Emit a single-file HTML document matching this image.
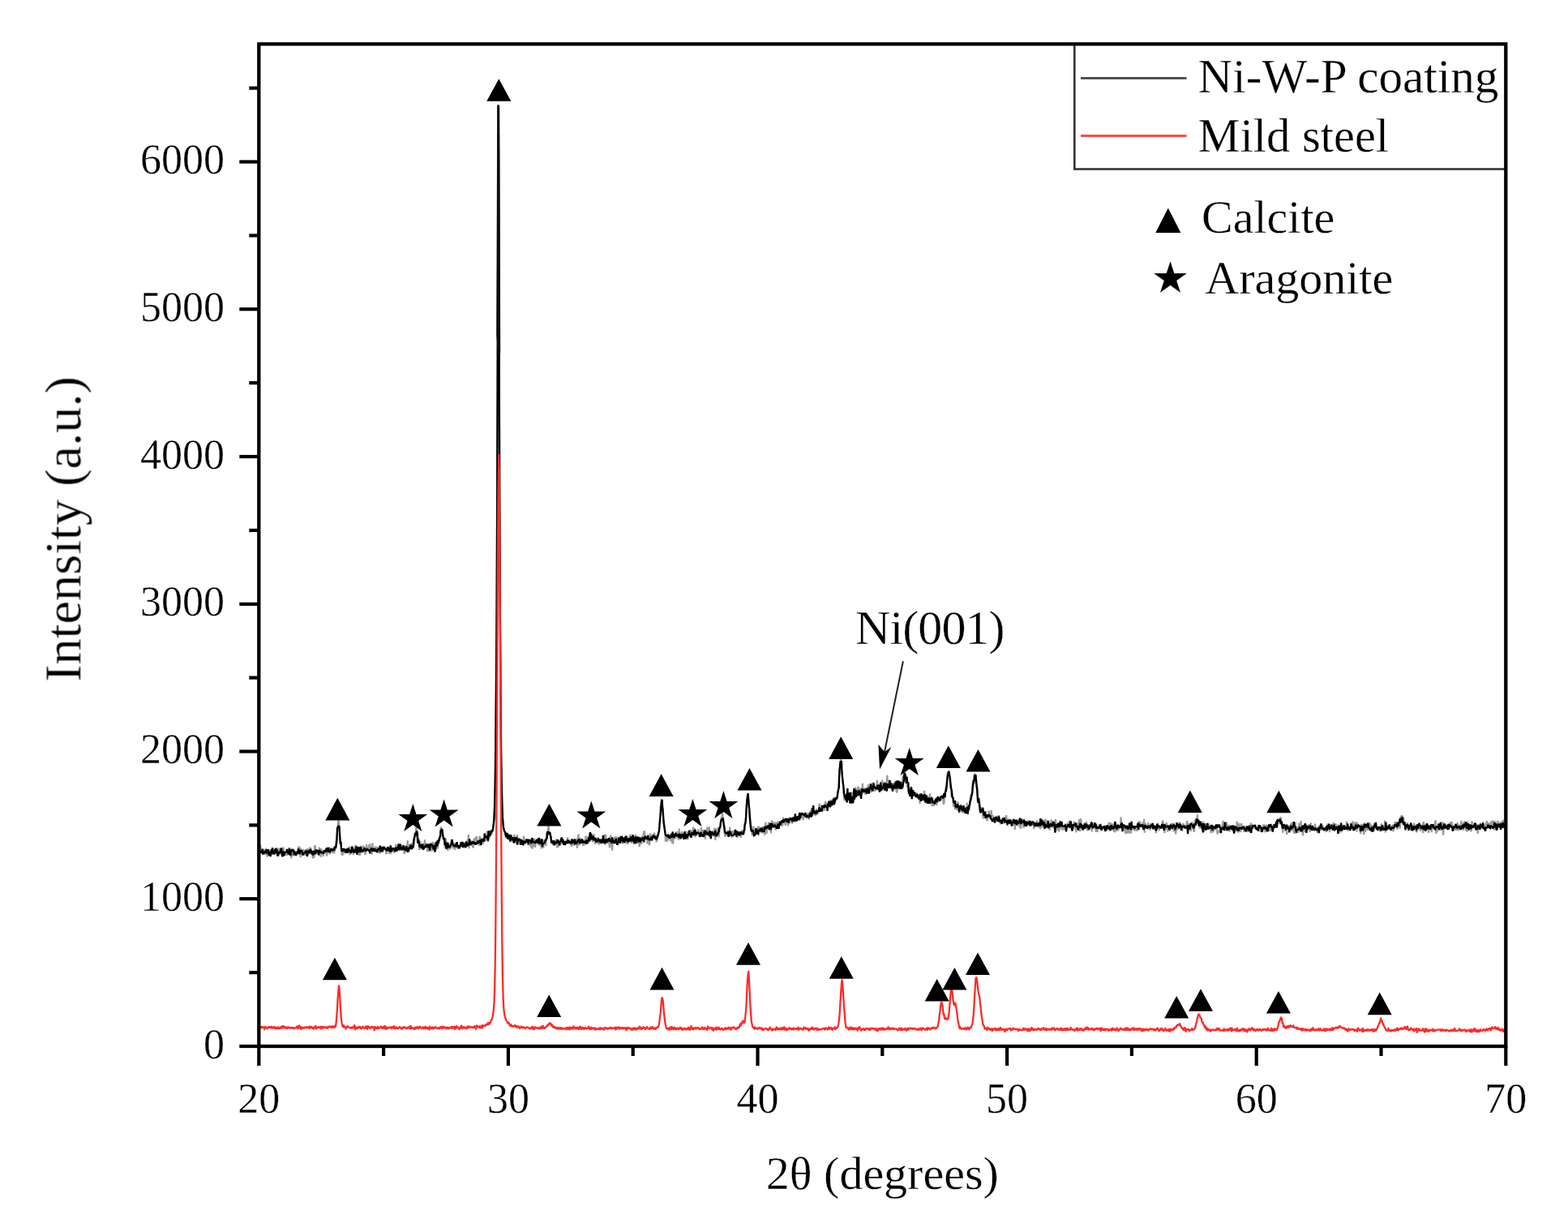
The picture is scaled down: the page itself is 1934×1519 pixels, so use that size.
<!DOCTYPE html>
<html><head><meta charset="utf-8"><title>XRD pattern</title>
<style>
html,body{margin:0;padding:0;background:#fff;}
svg{display:block;}
text{font-family:"Liberation Serif","Times New Roman",serif;fill:#000;stroke:#fff;stroke-width:0.35px;}
</style></head>
<body>
<svg width="1934" height="1519" viewBox="0 0 1934 1519">
<defs><filter id="soft" x="0" y="0" width="100%" height="100%" filterUnits="userSpaceOnUse"><feGaussianBlur stdDeviation="0.6"/></filter></defs>
<rect x="0" y="0" width="1934" height="1519" fill="#fff"/>
<g filter="url(#soft)">
<!-- data -->
<polyline fill="none" stroke="#9a9a9a" stroke-width="2.2" stroke-linejoin="bevel" points="319.3,1057.3 319.9,1050.0 320.5,1049.2 321.2,1041.4 321.8,1050.9 322.4,1049.8 323.0,1049.0 323.6,1052.1 324.3,1052.5 324.9,1047.1 325.5,1047.7 326.1,1049.2 326.7,1053.4 327.4,1052.9 328.0,1046.2 328.6,1046.9 329.2,1053.5 329.8,1056.5 330.5,1050.8 331.1,1048.4 331.7,1054.8 332.3,1049.7 332.9,1053.5 333.6,1056.4 334.2,1053.1 334.8,1051.1 335.4,1053.5 336.0,1048.5 336.7,1050.2 337.3,1048.7 337.9,1050.1 338.5,1049.0 339.1,1050.1 339.8,1049.4 340.4,1051.1 341.0,1051.0 341.6,1051.8 342.2,1055.8 342.9,1045.2 343.5,1055.4 344.1,1049.9 344.7,1046.3 345.3,1050.1 346.0,1051.0 346.6,1054.5 347.2,1046.9 347.8,1051.5 348.4,1051.1 349.1,1044.6 349.7,1046.4 350.3,1052.8 350.9,1053.1 351.5,1054.6 352.2,1052.6 352.8,1052.0 353.4,1051.1 354.0,1055.0 354.6,1047.6 355.3,1050.1 355.9,1052.0 356.5,1044.9 357.1,1055.3 357.7,1047.7 358.4,1050.3 359.0,1058.3 359.6,1047.6 360.2,1048.6 360.8,1056.2 361.5,1046.6 362.1,1049.0 362.7,1052.4 363.3,1052.1 363.9,1052.6 364.6,1051.8 365.2,1055.3 365.8,1054.1 366.4,1052.6 367.0,1048.0 367.7,1047.9 368.3,1043.6 368.9,1052.9 369.5,1043.9 370.1,1053.6 370.8,1057.1 371.4,1046.6 372.0,1047.9 372.6,1048.7 373.2,1053.4 373.9,1047.3 374.5,1049.9 375.1,1048.5 375.7,1049.5 376.3,1055.0 377.0,1046.9 377.6,1050.6 378.2,1051.3 378.8,1053.4 379.4,1045.8 380.1,1054.3 380.7,1051.9 381.3,1053.4 381.9,1050.5 382.5,1044.4 383.2,1047.9 383.8,1053.2 384.4,1050.4 385.0,1050.1 385.6,1056.7 386.3,1058.2 386.9,1050.1 387.5,1057.2 388.1,1043.0 388.7,1042.8 389.4,1053.3 390.0,1049.2 390.6,1052.3 391.2,1052.0 391.8,1049.8 392.5,1052.6 393.1,1050.7 393.7,1044.6 394.3,1050.9 394.9,1050.8 395.6,1056.7 396.2,1046.0 396.8,1050.1 397.4,1048.5 398.0,1049.6 398.7,1056.0 399.3,1051.4 399.9,1048.4 400.5,1050.6 401.1,1052.8 401.8,1046.4 402.4,1049.0 403.0,1055.5 403.6,1053.0 404.2,1049.8 404.9,1048.2 405.5,1049.3 406.1,1044.3 406.7,1053.2 407.3,1051.0 408.0,1050.3 408.6,1045.1 409.2,1047.1 409.8,1051.5 410.4,1050.5 411.1,1047.7 411.7,1051.1 412.3,1052.2 412.9,1045.7 413.5,1044.6 414.2,1040.5 414.8,1034.7 415.4,1035.3 416.0,1026.8 416.6,1019.7 417.3,1010.9 417.9,1012.6 418.5,1021.5 419.1,1027.5 419.7,1036.4 420.4,1038.9 421.0,1047.4 421.6,1053.6 422.2,1053.7 422.8,1054.4 423.5,1049.1 424.1,1052.2 424.7,1047.6 425.3,1052.3 425.9,1047.6 426.6,1047.2 427.2,1046.7 427.8,1051.5 428.4,1050.0 429.0,1049.7 429.7,1044.9 430.3,1049.5 430.9,1043.8 431.5,1054.2 432.1,1048.4 432.8,1049.6 433.4,1048.5 434.0,1043.1 434.6,1043.9 435.2,1048.7 435.9,1054.1 436.5,1044.7 437.1,1046.2 437.7,1048.5 438.3,1042.6 439.0,1042.5 439.6,1047.1 440.2,1048.4 440.8,1047.2 441.4,1054.1 442.1,1047.9 442.7,1049.8 443.3,1054.2 443.9,1054.6 444.5,1042.7 445.2,1047.0 445.8,1052.5 446.4,1043.4 447.0,1045.0 447.6,1043.6 448.3,1043.4 448.9,1044.1 449.5,1048.8 450.1,1052.7 450.7,1053.6 451.4,1048.2 452.0,1041.0 452.6,1047.9 453.2,1046.8 453.8,1049.3 454.5,1047.5 455.1,1041.5 455.7,1049.4 456.3,1040.5 456.9,1045.4 457.6,1049.0 458.2,1049.1 458.8,1053.4 459.4,1039.3 460.0,1049.0 460.7,1050.2 461.3,1046.5 461.9,1049.9 462.5,1043.7 463.1,1050.0 463.8,1049.5 464.4,1044.0 465.0,1045.1 465.6,1046.8 466.2,1045.1 466.9,1051.2 467.5,1048.0 468.1,1052.1 468.7,1051.6 469.3,1047.5 470.0,1046.6 470.6,1043.9 471.2,1044.3 471.8,1044.3 472.4,1048.4 473.1,1044.0 473.7,1047.4 474.3,1047.8 474.9,1045.3 475.5,1046.4 476.2,1052.2 476.8,1052.8 477.4,1044.1 478.0,1046.2 478.6,1045.6 479.3,1045.9 479.9,1052.4 480.5,1049.3 481.1,1051.3 481.7,1053.2 482.4,1045.1 483.0,1046.0 483.6,1046.8 484.2,1050.3 484.8,1046.3 485.5,1048.9 486.1,1050.8 486.7,1050.7 487.3,1048.1 487.9,1043.6 488.6,1040.9 489.2,1050.5 489.8,1048.0 490.4,1043.0 491.0,1044.5 491.7,1044.7 492.3,1040.2 492.9,1047.1 493.5,1043.4 494.1,1045.1 494.8,1048.8 495.4,1045.8 496.0,1048.0 496.6,1047.6 497.2,1046.1 497.9,1046.2 498.5,1052.7 499.1,1045.3 499.7,1051.8 500.3,1042.6 501.0,1048.4 501.6,1046.4 502.2,1043.1 502.8,1036.2 503.4,1051.4 504.1,1041.4 504.7,1042.1 505.3,1045.9 505.9,1045.6 506.5,1046.3 507.2,1044.2 507.8,1039.4 508.4,1047.4 509.0,1040.0 509.6,1042.6 510.3,1041.6 510.9,1040.8 511.5,1032.4 512.1,1028.7 512.7,1026.2 513.4,1019.3 514.0,1024.1 514.6,1025.6 515.2,1028.4 515.8,1036.5 516.5,1037.7 517.1,1046.8 517.7,1048.0 518.3,1036.8 518.9,1044.5 519.6,1040.8 520.2,1046.5 520.8,1045.1 521.4,1047.9 522.0,1045.6 522.7,1047.2 523.3,1043.4 523.9,1035.4 524.5,1040.2 525.1,1041.3 525.8,1042.6 526.4,1040.7 527.0,1050.2 527.6,1043.7 528.2,1048.9 528.9,1043.0 529.5,1050.1 530.1,1039.8 530.7,1046.2 531.3,1039.3 532.0,1045.6 532.6,1049.7 533.2,1038.0 533.8,1040.7 534.4,1044.7 535.1,1043.1 535.7,1038.8 536.3,1047.8 536.9,1043.8 537.5,1048.1 538.2,1044.5 538.8,1038.9 539.4,1040.8 540.0,1046.5 540.6,1035.0 541.3,1036.1 541.9,1036.9 542.5,1034.8 543.1,1030.5 543.7,1019.2 544.4,1030.5 545.0,1022.9 545.6,1025.9 546.2,1029.3 546.8,1032.1 547.5,1032.7 548.1,1037.5 548.7,1045.2 549.3,1036.7 549.9,1033.4 550.6,1044.4 551.2,1043.8 551.8,1045.3 552.4,1048.9 553.0,1040.1 553.7,1043.3 554.3,1044.5 554.9,1047.1 555.5,1046.3 556.1,1039.6 556.8,1037.6 557.4,1041.6 558.0,1036.7 558.6,1046.5 559.2,1041.0 559.9,1041.1 560.5,1039.2 561.1,1047.8 561.7,1043.4 562.3,1040.8 563.0,1044.5 563.6,1041.9 564.2,1044.3 564.8,1046.9 565.4,1041.2 566.1,1043.9 566.7,1043.8 567.3,1046.1 567.9,1044.1 568.5,1042.1 569.2,1039.6 569.8,1042.9 570.4,1038.1 571.0,1044.1 571.6,1042.0 572.3,1043.7 572.9,1039.8 573.5,1038.7 574.1,1038.3 574.7,1045.5 575.4,1040.7 576.0,1040.6 576.6,1035.0 577.2,1041.2 577.8,1028.9 578.5,1046.2 579.1,1040.4 579.7,1041.3 580.3,1036.0 580.9,1037.2 581.6,1043.2 582.2,1040.3 582.8,1042.5 583.4,1045.4 584.0,1042.9 584.7,1033.5 585.3,1036.5 585.9,1035.7 586.5,1036.3 587.1,1031.8 587.8,1031.7 588.4,1036.1 589.0,1036.4 589.6,1040.1 590.2,1036.8 590.9,1042.9 591.5,1030.9 592.1,1032.2 592.7,1037.8 593.3,1035.6 594.0,1032.8 594.6,1038.8 595.2,1039.7 595.8,1040.1 596.4,1033.7 597.1,1034.8 597.7,1035.3 598.3,1034.3 598.9,1037.4 599.5,1031.5 600.2,1034.2 600.8,1024.6 601.4,1035.0 602.0,1037.7 602.6,1031.3 603.3,1034.6 603.9,1024.4 604.5,1028.5 605.1,1023.4 605.7,1029.1 606.4,1028.8 607.0,1025.0 607.6,1023.3 608.2,1020.6 608.8,1017.1 609.5,1008.0 610.1,992.9 610.7,965.7 611.3,920.0 611.9,849.5 612.6,748.6 613.2,610.2 613.8,413.1 614.7,130.5 615.0,192.5 615.7,434.7 616.3,626.2 616.9,760.5 617.5,857.6 618.1,925.8 618.8,968.9 619.4,994.9 620.0,1009.6 620.6,1017.1 621.2,1021.8 621.9,1023.9 622.5,1025.7 623.1,1028.9 623.7,1029.1 624.3,1033.5 625.0,1031.4 625.6,1030.5 626.2,1032.8 626.8,1034.0 627.4,1028.1 628.1,1032.0 628.7,1031.7 629.3,1037.7 629.9,1032.0 630.5,1037.9 631.2,1029.9 631.8,1034.6 632.4,1038.9 633.0,1034.4 633.6,1039.8 634.3,1028.7 634.9,1036.3 635.5,1037.1 636.1,1036.3 636.7,1031.6 637.4,1039.6 638.0,1029.1 638.6,1041.0 639.2,1038.6 639.8,1041.2 640.5,1036.7 641.1,1033.7 641.7,1035.9 642.3,1036.1 642.9,1039.9 643.6,1036.7 644.2,1039.3 644.8,1039.6 645.4,1043.0 646.0,1030.7 646.7,1036.4 647.3,1040.4 647.9,1040.4 648.5,1035.9 649.1,1037.0 649.8,1037.6 650.4,1038.4 651.0,1036.0 651.6,1035.7 652.2,1034.0 652.9,1036.7 653.5,1043.0 654.1,1034.6 654.7,1041.5 655.3,1045.0 656.0,1038.8 656.6,1046.6 657.2,1037.6 657.8,1044.1 658.4,1037.9 659.1,1033.7 659.7,1039.4 660.3,1044.9 660.9,1036.0 661.5,1039.8 662.2,1034.5 662.8,1034.9 663.4,1039.8 664.0,1037.5 664.6,1040.1 665.3,1042.7 665.9,1033.9 666.5,1035.6 667.1,1038.3 667.7,1046.4 668.4,1036.9 669.0,1036.3 669.6,1039.6 670.2,1045.6 670.8,1035.8 671.5,1036.5 672.1,1037.3 672.7,1039.1 673.3,1043.0 673.9,1028.9 674.6,1025.3 675.2,1029.5 675.8,1028.7 676.4,1017.4 677.0,1023.0 677.7,1029.8 678.3,1026.5 678.9,1032.5 679.5,1033.6 680.1,1037.2 680.8,1037.7 681.4,1038.0 682.0,1042.1 682.6,1035.9 683.2,1038.5 683.9,1042.2 684.5,1036.1 685.1,1036.8 685.7,1035.5 686.3,1034.8 687.0,1045.5 687.6,1039.9 688.2,1045.0 688.8,1040.9 689.4,1038.5 690.1,1037.2 690.7,1039.2 691.3,1038.1 691.9,1041.5 692.5,1035.1 693.2,1038.8 693.8,1039.9 694.4,1037.4 695.0,1037.4 695.6,1040.2 696.3,1040.2 696.9,1037.8 697.5,1038.2 698.1,1036.2 698.7,1040.2 699.4,1037.7 700.0,1032.5 700.6,1037.0 701.2,1040.4 701.8,1039.1 702.5,1034.9 703.1,1040.8 703.7,1040.3 704.3,1040.3 704.9,1043.6 705.6,1036.9 706.2,1040.2 706.8,1037.1 707.4,1041.6 708.0,1042.2 708.7,1039.7 709.3,1040.7 709.9,1035.0 710.5,1040.2 711.1,1033.7 711.8,1045.7 712.4,1042.1 713.0,1032.4 713.6,1028.3 714.2,1042.5 714.9,1034.7 715.5,1039.8 716.1,1033.1 716.7,1038.0 717.3,1035.4 718.0,1039.9 718.6,1036.5 719.2,1043.0 719.8,1035.0 720.4,1042.3 721.1,1037.6 721.7,1039.4 722.3,1031.7 722.9,1031.0 723.5,1040.8 724.2,1032.2 724.8,1034.8 725.4,1034.2 726.0,1031.2 726.6,1034.3 727.3,1027.5 727.9,1027.5 728.5,1034.5 729.1,1028.1 729.7,1034.0 730.4,1034.4 731.0,1038.4 731.6,1035.5 732.2,1028.2 732.8,1033.2 733.5,1034.7 734.1,1041.1 734.7,1038.2 735.3,1035.4 735.9,1038.9 736.6,1036.1 737.2,1039.4 737.8,1038.0 738.4,1041.4 739.0,1038.6 739.7,1041.0 740.3,1037.4 740.9,1040.0 741.5,1036.9 742.1,1039.7 742.8,1038.2 743.4,1036.9 744.0,1035.8 744.6,1036.3 745.2,1039.0 745.9,1029.0 746.5,1041.6 747.1,1028.6 747.7,1036.4 748.3,1035.9 749.0,1039.7 749.6,1037.8 750.2,1036.8 750.8,1037.2 751.4,1040.3 752.1,1045.3 752.7,1038.2 753.3,1029.4 753.9,1035.2 754.5,1038.2 755.2,1048.6 755.8,1033.9 756.4,1035.3 757.0,1038.6 757.6,1037.7 758.3,1031.7 758.9,1039.9 759.5,1031.7 760.1,1035.4 760.7,1041.1 761.4,1031.6 762.0,1035.0 762.6,1042.2 763.2,1035.2 763.8,1032.4 764.5,1034.0 765.1,1039.1 765.7,1030.4 766.3,1033.7 766.9,1030.7 767.6,1031.8 768.2,1040.5 768.8,1035.5 769.4,1034.2 770.0,1037.3 770.7,1033.2 771.3,1031.4 771.9,1039.8 772.5,1038.8 773.1,1032.5 773.8,1038.1 774.4,1040.8 775.0,1037.2 775.6,1037.2 776.2,1030.9 776.9,1034.9 777.5,1028.6 778.1,1039.3 778.7,1034.6 779.3,1040.0 780.0,1032.4 780.6,1038.3 781.2,1029.4 781.8,1033.6 782.4,1037.0 783.1,1036.3 783.7,1034.7 784.3,1028.9 784.9,1039.7 785.5,1037.2 786.2,1038.9 786.8,1038.8 787.4,1033.4 788.0,1036.1 788.6,1044.2 789.3,1031.6 789.9,1036.0 790.5,1032.5 791.1,1040.8 791.7,1035.1 792.4,1030.6 793.0,1032.2 793.6,1029.2 794.2,1026.0 794.8,1024.4 795.5,1031.5 796.1,1030.0 796.7,1034.7 797.3,1031.1 797.9,1034.8 798.6,1040.4 799.2,1029.6 799.8,1029.5 800.4,1037.4 801.0,1042.3 801.7,1030.6 802.3,1027.5 802.9,1032.6 803.5,1032.1 804.1,1036.1 804.8,1029.6 805.4,1032.4 806.0,1032.2 806.6,1027.5 807.2,1027.4 807.9,1034.7 808.5,1034.9 809.1,1029.9 809.7,1038.2 810.3,1035.5 811.0,1033.1 811.6,1032.3 812.2,1029.0 812.8,1026.5 813.4,1021.3 814.1,1010.9 814.7,994.7 815.3,993.8 815.9,986.5 816.5,985.4 817.2,996.9 817.8,996.0 818.4,1013.9 819.0,1015.7 819.6,1018.9 820.3,1023.8 820.9,1037.6 821.5,1035.5 822.1,1029.5 822.7,1034.7 823.4,1037.4 824.0,1027.7 824.6,1029.9 825.2,1034.3 825.8,1032.4 826.5,1029.6 827.1,1036.9 827.7,1032.8 828.3,1033.8 828.9,1039.6 829.6,1032.6 830.2,1040.5 830.8,1031.9 831.4,1030.1 832.0,1031.2 832.7,1033.9 833.3,1033.0 833.9,1032.0 834.5,1025.1 835.1,1026.5 835.8,1029.5 836.4,1033.1 837.0,1035.7 837.6,1021.5 838.2,1029.7 838.9,1028.5 839.5,1029.8 840.1,1030.9 840.7,1026.9 841.3,1025.2 842.0,1033.7 842.6,1032.7 843.2,1028.4 843.8,1029.4 844.4,1027.3 845.1,1024.6 845.7,1032.1 846.3,1027.2 846.9,1025.4 847.5,1027.3 848.2,1035.4 848.8,1030.8 849.4,1029.9 850.0,1029.1 850.6,1031.6 851.3,1030.8 851.9,1023.0 852.5,1026.5 853.1,1024.7 853.7,1027.7 854.4,1026.6 855.0,1019.6 855.6,1031.4 856.2,1028.4 856.8,1021.3 857.5,1032.2 858.1,1028.6 858.7,1030.0 859.3,1028.5 859.9,1029.0 860.6,1026.6 861.2,1022.3 861.8,1026.1 862.4,1029.0 863.0,1028.4 863.7,1030.6 864.3,1027.8 864.9,1019.9 865.5,1030.8 866.1,1025.1 866.8,1023.0 867.4,1026.7 868.0,1022.9 868.6,1029.1 869.2,1024.4 869.9,1034.8 870.5,1026.8 871.1,1025.6 871.7,1025.2 872.3,1019.7 873.0,1024.4 873.6,1024.8 874.2,1026.4 874.8,1019.4 875.4,1027.7 876.1,1032.3 876.7,1026.0 877.3,1027.3 877.9,1029.1 878.5,1024.6 879.2,1025.9 879.8,1031.0 880.4,1028.2 881.0,1023.0 881.6,1020.9 882.3,1035.8 882.9,1029.0 883.5,1021.5 884.1,1027.9 884.7,1029.7 885.4,1027.5 886.0,1019.7 886.6,1032.4 887.2,1026.4 887.8,1020.8 888.5,1020.2 889.1,1012.3 889.7,1007.6 890.3,1009.5 890.9,999.1 891.6,1012.9 892.2,1015.1 892.8,1020.9 893.4,1025.2 894.0,1030.1 894.7,1031.2 895.3,1029.9 895.9,1025.6 896.5,1029.7 897.1,1025.5 897.8,1023.8 898.4,1029.0 899.0,1028.7 899.6,1031.8 900.2,1019.6 900.9,1029.6 901.5,1029.9 902.1,1027.8 902.7,1032.9 903.3,1024.2 904.0,1028.7 904.6,1026.1 905.2,1027.4 905.8,1023.8 906.4,1026.8 907.1,1029.8 907.7,1027.7 908.3,1028.5 908.9,1024.4 909.5,1032.9 910.2,1024.5 910.8,1027.1 911.4,1029.1 912.0,1026.2 912.6,1029.6 913.3,1027.4 913.9,1032.9 914.5,1028.5 915.1,1027.8 915.7,1023.2 916.4,1027.6 917.0,1029.0 917.6,1025.7 918.2,1018.8 918.8,1016.7 919.5,1012.5 920.1,1006.1 920.7,992.3 921.3,995.6 921.9,982.3 922.6,981.7 923.2,983.7 923.8,992.7 924.4,1008.7 925.0,1006.2 925.7,1014.1 926.3,1016.4 926.9,1020.8 927.5,1029.8 928.1,1022.6 928.8,1023.6 929.4,1018.8 930.0,1024.2 930.6,1026.4 931.2,1023.7 931.9,1023.9 932.5,1028.1 933.1,1027.0 933.7,1024.5 934.3,1021.8 935.0,1019.0 935.6,1030.4 936.2,1018.5 936.8,1026.3 937.4,1023.0 938.1,1020.9 938.7,1026.6 939.3,1020.5 939.9,1027.5 940.5,1019.0 941.2,1024.4 941.8,1027.0 942.4,1018.7 943.0,1029.6 943.6,1024.9 944.3,1013.6 944.9,1026.4 945.5,1028.1 946.1,1020.0 946.7,1020.1 947.4,1021.9 948.0,1013.5 948.6,1020.7 949.2,1023.3 949.8,1017.7 950.5,1023.6 951.1,1027.3 951.7,1012.0 952.3,1012.4 952.9,1016.1 953.6,1020.8 954.2,1019.6 954.8,1014.7 955.4,1013.7 956.0,1015.0 956.7,1023.6 957.3,1013.7 957.9,1014.9 958.5,1020.2 959.1,1015.6 959.8,1012.7 960.4,1021.3 961.0,1017.1 961.6,1013.2 962.2,1014.1 962.9,1018.6 963.5,1013.7 964.1,1015.8 964.7,1017.9 965.3,1018.0 966.0,1007.6 966.6,1012.2 967.2,1012.6 967.8,1014.0 968.4,1016.2 969.1,1017.4 969.7,1011.3 970.3,1008.8 970.9,1013.2 971.5,1010.2 972.2,1018.4 972.8,1013.2 973.4,1011.9 974.0,1015.2 974.6,1009.0 975.3,1010.0 975.9,1010.4 976.5,1013.2 977.1,1015.4 977.7,1013.3 978.4,1013.0 979.0,1009.3 979.6,1011.3 980.2,1008.9 980.8,1013.7 981.5,1007.1 982.1,1008.9 982.7,1009.9 983.3,1011.7 983.9,1006.0 984.6,1007.6 985.2,1005.3 985.8,1003.2 986.4,1011.8 987.0,1009.4 987.7,1002.1 988.3,1003.8 988.9,1009.2 989.5,1004.8 990.1,1003.0 990.8,1011.1 991.4,1004.7 992.0,1004.9 992.6,1008.1 993.2,1003.3 993.9,1005.8 994.5,1006.0 995.1,1007.8 995.7,1002.2 996.3,1008.5 997.0,1005.6 997.6,1010.6 998.2,1004.6 998.8,1001.6 999.4,1001.4 1000.1,998.9 1000.7,1002.7 1001.3,1002.2 1001.9,1005.4 1002.5,1002.2 1003.2,998.6 1003.8,1005.1 1004.4,999.6 1005.0,1001.8 1005.6,1005.9 1006.3,1004.9 1006.9,997.4 1007.5,999.4 1008.1,1004.4 1008.7,1002.8 1009.4,1000.9 1010.0,1001.9 1010.6,990.6 1011.2,997.1 1011.8,992.7 1012.5,995.3 1013.1,995.9 1013.7,998.8 1014.3,1000.9 1014.9,999.1 1015.6,996.9 1016.2,994.2 1016.8,999.7 1017.4,995.6 1018.0,987.9 1018.7,993.6 1019.3,995.3 1019.9,989.6 1020.5,993.4 1021.1,997.7 1021.8,990.9 1022.4,991.2 1023.0,990.9 1023.6,987.1 1024.2,988.5 1024.9,986.1 1025.5,988.3 1026.1,986.0 1026.7,992.0 1027.3,987.6 1028.0,990.7 1028.6,982.6 1029.2,986.6 1029.8,988.3 1030.4,988.3 1031.1,983.1 1031.7,984.2 1032.3,983.6 1032.9,979.6 1033.5,975.7 1034.2,973.8 1034.8,960.8 1035.4,950.7 1036.0,947.8 1036.6,944.8 1037.3,933.4 1037.9,949.4 1038.5,951.0 1039.1,960.4 1039.7,962.8 1040.4,972.1 1041.0,983.7 1041.6,987.0 1042.2,984.5 1042.8,982.3 1043.5,983.4 1044.1,988.9 1044.7,981.6 1045.3,980.7 1045.9,983.4 1046.6,986.9 1047.2,979.5 1047.8,984.4 1048.4,984.2 1049.0,983.1 1049.7,981.8 1050.3,985.4 1050.9,983.9 1051.5,976.2 1052.1,987.1 1052.8,982.6 1053.4,981.8 1054.0,979.1 1054.6,979.0 1055.2,970.6 1055.9,978.6 1056.5,981.4 1057.1,981.1 1057.7,976.2 1058.3,969.7 1059.0,973.9 1059.6,976.6 1060.2,982.1 1060.8,971.3 1061.4,977.0 1062.1,978.8 1062.7,978.7 1063.3,975.9 1063.9,965.8 1064.5,977.9 1065.2,975.9 1065.8,977.2 1066.4,971.5 1067.0,973.0 1067.6,980.0 1068.3,973.9 1068.9,974.0 1069.5,971.2 1070.1,978.1 1070.7,967.3 1071.4,971.2 1072.0,974.4 1072.6,972.5 1073.2,975.6 1073.8,973.7 1074.5,977.1 1075.1,970.8 1075.7,970.9 1076.3,972.2 1076.9,964.5 1077.6,975.9 1078.2,967.2 1078.8,974.4 1079.4,975.3 1080.0,973.5 1080.7,970.4 1081.3,967.3 1081.9,961.8 1082.5,971.5 1083.1,968.5 1083.8,975.6 1084.4,968.2 1085.0,971.5 1085.6,967.6 1086.2,970.6 1086.9,967.7 1087.5,968.2 1088.1,961.9 1088.7,966.1 1089.3,968.0 1090.0,973.2 1090.6,969.4 1091.2,963.9 1091.8,974.1 1092.4,969.5 1093.1,972.2 1093.7,964.7 1094.3,955.9 1094.9,965.0 1095.5,964.2 1096.2,969.0 1096.8,962.4 1097.4,964.9 1098.0,963.2 1098.6,968.8 1099.3,965.0 1099.9,973.5 1100.5,971.4 1101.1,971.7 1101.7,967.9 1102.4,969.7 1103.0,972.0 1103.6,965.8 1104.2,973.6 1104.8,968.8 1105.5,973.8 1106.1,977.5 1106.7,975.0 1107.3,965.4 1107.9,973.9 1108.6,968.3 1109.2,967.9 1109.8,968.5 1110.4,964.9 1111.0,969.7 1111.7,965.9 1112.3,971.9 1112.9,967.9 1113.5,955.8 1114.1,960.0 1114.8,958.0 1115.4,957.5 1116.0,956.6 1116.6,959.8 1117.2,959.6 1117.9,958.2 1118.5,966.2 1119.1,970.5 1119.7,969.5 1120.3,975.8 1121.0,974.8 1121.6,972.4 1122.2,974.0 1122.8,976.1 1123.4,978.6 1124.1,977.8 1124.7,981.1 1125.3,982.1 1125.9,974.6 1126.5,974.3 1127.2,978.5 1127.8,980.8 1128.4,982.7 1129.0,982.1 1129.6,982.3 1130.3,976.9 1130.9,982.0 1131.5,978.6 1132.1,982.7 1132.7,984.8 1133.4,979.3 1134.0,981.2 1134.6,991.3 1135.2,979.9 1135.8,981.1 1136.5,979.3 1137.1,978.3 1137.7,987.4 1138.3,981.6 1138.9,982.1 1139.6,981.8 1140.2,974.7 1140.8,987.7 1141.4,983.1 1142.0,985.1 1142.7,990.3 1143.3,985.0 1143.9,986.1 1144.5,986.4 1145.1,990.5 1145.8,981.1 1146.4,984.0 1147.0,978.3 1147.6,986.4 1148.2,988.8 1148.9,985.0 1149.5,993.9 1150.1,990.4 1150.7,994.0 1151.3,987.6 1152.0,993.8 1152.6,985.4 1153.2,988.8 1153.8,987.6 1154.4,985.3 1155.1,992.7 1155.7,991.2 1156.3,983.7 1156.9,988.5 1157.5,986.1 1158.2,986.1 1158.8,987.5 1159.4,983.3 1160.0,985.5 1160.6,985.7 1161.3,982.1 1161.9,982.1 1162.5,986.7 1163.1,983.3 1163.7,991.7 1164.4,990.5 1165.0,979.1 1165.6,981.3 1166.2,970.3 1166.8,971.7 1167.5,966.5 1168.1,962.0 1168.7,952.0 1169.3,956.6 1169.9,953.7 1170.6,950.4 1171.2,955.8 1171.8,964.2 1172.4,972.3 1173.0,967.4 1173.7,983.2 1174.3,975.5 1174.9,982.1 1175.5,986.2 1176.1,995.0 1176.8,992.8 1177.4,993.6 1178.0,997.8 1178.6,993.5 1179.2,991.5 1179.9,999.0 1180.5,993.3 1181.1,989.8 1181.7,988.6 1182.3,995.8 1183.0,1002.5 1183.6,998.7 1184.2,996.6 1184.8,1001.2 1185.4,991.8 1186.1,999.1 1186.7,995.6 1187.3,1002.7 1187.9,994.7 1188.5,1000.7 1189.2,998.6 1189.8,998.0 1190.4,1000.5 1191.0,997.5 1191.6,1003.1 1192.3,997.1 1192.9,989.7 1193.5,1002.6 1194.1,1001.6 1194.7,997.7 1195.4,999.7 1196.0,995.4 1196.6,987.6 1197.2,980.2 1197.8,980.3 1198.5,978.8 1199.1,977.1 1199.7,965.2 1200.3,962.4 1200.9,967.1 1201.6,955.9 1202.2,954.3 1202.8,954.0 1203.4,965.8 1204.0,966.6 1204.7,971.6 1205.3,979.5 1205.9,982.1 1206.5,988.3 1207.1,989.1 1207.8,994.6 1208.4,996.8 1209.0,999.4 1209.6,994.5 1210.2,999.4 1210.9,999.9 1211.5,999.6 1212.1,1002.4 1212.7,1009.5 1213.3,1006.8 1214.0,1004.0 1214.6,1005.2 1215.2,1009.4 1215.8,1000.1 1216.4,1006.2 1217.1,1011.1 1217.7,1011.8 1218.3,1008.8 1218.9,1007.8 1219.5,999.5 1220.2,1003.7 1220.8,1006.4 1221.4,1008.1 1222.0,1008.5 1222.6,998.9 1223.3,1005.5 1223.9,1008.7 1224.5,1005.1 1225.1,1007.3 1225.7,1010.2 1226.4,1009.7 1227.0,1009.5 1227.6,1011.7 1228.2,1013.4 1228.8,1008.5 1229.5,1006.0 1230.1,1007.5 1230.7,1008.5 1231.3,1010.3 1231.9,1005.2 1232.6,1008.2 1233.2,1010.2 1233.8,1016.3 1234.4,1013.5 1235.0,1011.3 1235.7,1015.1 1236.3,1012.7 1236.9,1012.9 1237.5,1016.0 1238.1,1013.4 1238.8,1012.9 1239.4,1015.0 1240.0,1010.5 1240.6,1012.7 1241.2,1005.0 1241.9,1011.2 1242.5,1018.3 1243.1,1011.5 1243.7,1012.9 1244.3,1011.5 1245.0,1009.3 1245.6,1014.9 1246.2,1013.1 1246.8,1017.2 1247.4,1010.1 1248.1,1013.6 1248.7,1012.3 1249.3,1011.4 1249.9,1017.5 1250.5,1011.1 1251.2,1011.2 1251.8,1023.0 1252.4,1013.7 1253.0,1013.3 1253.6,1015.7 1254.3,1010.5 1254.9,1015.5 1255.5,1010.0 1256.1,1012.6 1256.7,1012.4 1257.4,1019.4 1258.0,1016.9 1258.6,1021.3 1259.2,1020.8 1259.8,1012.3 1260.5,1016.8 1261.1,1013.4 1261.7,1012.7 1262.3,1019.4 1262.9,1020.3 1263.6,1015.7 1264.2,1016.5 1264.8,1016.4 1265.4,1016.6 1266.0,1016.8 1266.7,1011.9 1267.3,1017.8 1267.9,1013.1 1268.5,1011.3 1269.1,1015.1 1269.8,1016.7 1270.4,1018.7 1271.0,1017.1 1271.6,1016.8 1272.2,1013.4 1272.9,1017.3 1273.5,1016.6 1274.1,1017.0 1274.7,1013.2 1275.3,1022.1 1276.0,1018.7 1276.6,1018.5 1277.2,1016.4 1277.8,1015.1 1278.4,1019.5 1279.1,1011.4 1279.7,1014.5 1280.3,1015.2 1280.9,1018.3 1281.5,1015.2 1282.2,1021.4 1282.8,1010.0 1283.4,1022.0 1284.0,1017.5 1284.6,1019.8 1285.3,1014.6 1285.9,1020.2 1286.5,1015.3 1287.1,1017.5 1287.7,1011.2 1288.4,1018.6 1289.0,1017.1 1289.6,1009.9 1290.2,1016.3 1290.8,1015.6 1291.5,1019.7 1292.1,1014.4 1292.7,1017.5 1293.3,1021.5 1293.9,1013.7 1294.6,1023.7 1295.2,1017.8 1295.8,1016.2 1296.4,1012.1 1297.0,1010.6 1297.7,1020.5 1298.3,1015.4 1298.9,1014.9 1299.5,1021.0 1300.1,1019.7 1300.8,1017.7 1301.4,1012.0 1302.0,1010.3 1302.6,1020.8 1303.2,1017.2 1303.9,1016.5 1304.5,1024.4 1305.1,1016.0 1305.7,1018.8 1306.3,1025.3 1307.0,1019.8 1307.6,1015.6 1308.2,1014.6 1308.8,1022.1 1309.4,1013.3 1310.1,1020.8 1310.7,1023.7 1311.3,1017.5 1311.9,1020.9 1312.5,1018.2 1313.2,1023.1 1313.8,1019.0 1314.4,1015.5 1315.0,1019.4 1315.6,1018.6 1316.3,1015.9 1316.9,1017.3 1317.5,1013.8 1318.1,1015.2 1318.7,1020.6 1319.4,1011.6 1320.0,1019.3 1320.6,1018.4 1321.2,1016.2 1321.8,1023.5 1322.5,1020.9 1323.1,1016.3 1323.7,1019.2 1324.3,1021.9 1324.9,1012.9 1325.6,1019.4 1326.2,1017.7 1326.8,1020.1 1327.4,1026.3 1328.0,1016.4 1328.7,1017.5 1329.3,1014.5 1329.9,1019.6 1330.5,1021.1 1331.1,1010.0 1331.8,1024.2 1332.4,1024.7 1333.0,1009.3 1333.6,1013.5 1334.2,1020.8 1334.9,1019.4 1335.5,1023.4 1336.1,1018.2 1336.7,1023.9 1337.3,1014.3 1338.0,1020.8 1338.6,1017.8 1339.2,1017.7 1339.8,1013.0 1340.4,1018.0 1341.1,1024.5 1341.7,1017.2 1342.3,1018.7 1342.9,1020.1 1343.5,1016.1 1344.2,1020.6 1344.8,1021.7 1345.4,1018.9 1346.0,1013.0 1346.6,1025.4 1347.3,1020.0 1347.9,1019.8 1348.5,1019.2 1349.1,1017.8 1349.7,1014.0 1350.4,1019.8 1351.0,1020.6 1351.6,1023.7 1352.2,1026.0 1352.8,1017.5 1353.5,1026.0 1354.1,1020.5 1354.7,1022.3 1355.3,1016.5 1355.9,1021.4 1356.6,1016.8 1357.2,1022.6 1357.8,1015.6 1358.4,1020.3 1359.0,1018.6 1359.7,1021.4 1360.3,1021.1 1360.9,1020.7 1361.5,1018.3 1362.1,1023.3 1362.8,1022.2 1363.4,1017.3 1364.0,1022.9 1364.6,1017.8 1365.2,1020.5 1365.9,1019.8 1366.5,1019.8 1367.1,1023.1 1367.7,1013.7 1368.3,1024.8 1369.0,1013.8 1369.6,1024.7 1370.2,1022.2 1370.8,1014.8 1371.4,1021.5 1372.1,1019.1 1372.7,1015.9 1373.3,1024.6 1373.9,1024.3 1374.5,1021.6 1375.2,1026.4 1375.8,1020.8 1376.4,1019.3 1377.0,1025.0 1377.6,1017.6 1378.3,1023.2 1378.9,1024.3 1379.5,1021.1 1380.1,1020.7 1380.7,1022.1 1381.4,1021.2 1382.0,1017.8 1382.6,1007.3 1383.2,1018.4 1383.8,1015.0 1384.5,1023.9 1385.1,1018.6 1385.7,1021.2 1386.3,1023.0 1386.9,1024.0 1387.6,1016.9 1388.2,1028.2 1388.8,1023.7 1389.4,1022.6 1390.0,1017.0 1390.7,1027.6 1391.3,1022.7 1391.9,1024.4 1392.5,1019.2 1393.1,1027.2 1393.8,1025.7 1394.4,1019.9 1395.0,1027.6 1395.6,1016.4 1396.2,1023.4 1396.9,1022.6 1397.5,1022.8 1398.1,1017.6 1398.7,1018.9 1399.3,1023.7 1400.0,1024.0 1400.6,1019.9 1401.2,1019.1 1401.8,1018.2 1402.4,1024.9 1403.1,1019.5 1403.7,1018.0 1404.3,1013.1 1404.9,1013.5 1405.5,1015.8 1406.2,1012.5 1406.8,1018.4 1407.4,1018.7 1408.0,1016.2 1408.6,1018.2 1409.3,1019.4 1409.9,1013.3 1410.5,1022.3 1411.1,1009.7 1411.7,1026.8 1412.4,1014.3 1413.0,1019.8 1413.6,1018.4 1414.2,1021.1 1414.8,1016.9 1415.5,1021.7 1416.1,1014.0 1416.7,1022.5 1417.3,1018.6 1417.9,1021.1 1418.6,1023.4 1419.2,1015.3 1419.8,1017.5 1420.4,1016.9 1421.0,1019.3 1421.7,1020.3 1422.3,1022.3 1422.9,1020.4 1423.5,1019.1 1424.1,1021.6 1424.8,1023.4 1425.4,1023.2 1426.0,1027.3 1426.6,1017.3 1427.2,1020.5 1427.9,1014.7 1428.5,1017.1 1429.1,1021.9 1429.7,1024.2 1430.3,1017.8 1431.0,1021.3 1431.6,1019.9 1432.2,1021.5 1432.8,1020.4 1433.4,1017.9 1434.1,1011.5 1434.7,1014.2 1435.3,1021.0 1435.9,1019.3 1436.5,1027.2 1437.2,1019.8 1437.8,1022.9 1438.4,1015.3 1439.0,1014.5 1439.6,1020.3 1440.3,1025.7 1440.9,1021.1 1441.5,1018.4 1442.1,1021.1 1442.7,1021.8 1443.4,1021.2 1444.0,1019.7 1444.6,1015.8 1445.2,1015.4 1445.8,1017.7 1446.5,1019.1 1447.1,1014.8 1447.7,1025.4 1448.3,1021.7 1448.9,1017.6 1449.6,1022.3 1450.2,1028.4 1450.8,1020.4 1451.4,1020.4 1452.0,1023.3 1452.7,1014.6 1453.3,1017.5 1453.9,1016.8 1454.5,1022.3 1455.1,1013.4 1455.8,1020.7 1456.4,1017.8 1457.0,1018.5 1457.6,1017.5 1458.2,1024.8 1458.9,1016.4 1459.5,1015.2 1460.1,1020.6 1460.7,1017.4 1461.3,1021.3 1462.0,1019.3 1462.6,1019.6 1463.2,1019.7 1463.8,1013.4 1464.4,1012.2 1465.1,1026.8 1465.7,1015.3 1466.3,1021.5 1466.9,1015.5 1467.5,1019.3 1468.2,1018.6 1468.8,1024.8 1469.4,1018.8 1470.0,1013.9 1470.6,1014.2 1471.3,1020.1 1471.9,1021.8 1472.5,1025.3 1473.1,1024.9 1473.7,1011.0 1474.4,1014.5 1475.0,1009.2 1475.6,1013.5 1476.2,1014.4 1476.8,1004.4 1477.5,1014.3 1478.1,1014.6 1478.7,1012.2 1479.3,1012.3 1479.9,1021.7 1480.6,1016.3 1481.2,1013.9 1481.8,1019.0 1482.4,1022.9 1483.0,1022.1 1483.7,1012.7 1484.3,1015.1 1484.9,1018.6 1485.5,1020.7 1486.1,1020.7 1486.8,1015.7 1487.4,1023.6 1488.0,1022.0 1488.6,1014.6 1489.2,1016.8 1489.9,1019.9 1490.5,1014.9 1491.1,1020.5 1491.7,1021.0 1492.3,1018.9 1493.0,1022.5 1493.6,1027.0 1494.2,1018.1 1494.8,1022.2 1495.4,1018.9 1496.1,1026.1 1496.7,1025.1 1497.3,1020.6 1497.9,1018.4 1498.5,1023.5 1499.2,1020.5 1499.8,1016.3 1500.4,1017.1 1501.0,1020.2 1501.6,1028.6 1502.3,1024.7 1502.9,1025.8 1503.5,1024.2 1504.1,1025.8 1504.7,1026.3 1505.4,1016.9 1506.0,1023.1 1506.6,1023.2 1507.2,1022.8 1507.8,1022.5 1508.5,1011.9 1509.1,1021.7 1509.7,1016.1 1510.3,1024.5 1510.9,1019.2 1511.6,1020.1 1512.2,1020.9 1512.8,1013.7 1513.4,1020.5 1514.0,1016.6 1514.7,1024.6 1515.3,1019.3 1515.9,1017.1 1516.5,1025.7 1517.1,1020.2 1517.8,1017.8 1518.4,1020.9 1519.0,1020.6 1519.6,1022.2 1520.2,1017.7 1520.9,1025.2 1521.5,1022.6 1522.1,1027.3 1522.7,1023.5 1523.3,1017.9 1524.0,1025.3 1524.6,1020.5 1525.2,1021.8 1525.8,1012.6 1526.4,1016.9 1527.1,1026.4 1527.7,1025.4 1528.3,1015.1 1528.9,1022.6 1529.5,1022.6 1530.2,1025.9 1530.8,1017.4 1531.4,1015.1 1532.0,1022.5 1532.6,1019.0 1533.3,1019.2 1533.9,1018.1 1534.5,1025.8 1535.1,1018.2 1535.7,1024.8 1536.4,1023.5 1537.0,1018.9 1537.6,1024.8 1538.2,1025.8 1538.8,1022.6 1539.5,1020.4 1540.1,1024.0 1540.7,1018.5 1541.3,1023.0 1541.9,1026.7 1542.6,1016.3 1543.2,1014.7 1543.8,1023.8 1544.4,1018.0 1545.0,1019.5 1545.7,1021.7 1546.3,1018.9 1546.9,1021.6 1547.5,1017.5 1548.1,1019.2 1548.8,1020.7 1549.4,1023.0 1550.0,1019.5 1550.6,1022.3 1551.2,1023.2 1551.9,1022.9 1552.5,1020.6 1553.1,1025.7 1553.7,1018.3 1554.3,1024.8 1555.0,1024.6 1555.6,1024.3 1556.2,1019.2 1556.8,1024.5 1557.4,1022.8 1558.1,1017.0 1558.7,1019.9 1559.3,1016.3 1559.9,1022.4 1560.5,1026.1 1561.2,1024.4 1561.8,1017.5 1562.4,1017.4 1563.0,1020.4 1563.6,1020.5 1564.3,1023.7 1564.9,1019.9 1565.5,1025.1 1566.1,1019.1 1566.7,1024.8 1567.4,1015.8 1568.0,1019.1 1568.6,1021.2 1569.2,1024.0 1569.8,1022.9 1570.5,1017.8 1571.1,1016.1 1571.7,1020.5 1572.3,1019.9 1572.9,1018.3 1573.6,1018.9 1574.2,1013.3 1574.8,1018.7 1575.4,1019.0 1576.0,1010.8 1576.7,1009.6 1577.3,1016.0 1577.9,1015.0 1578.5,1008.5 1579.1,1009.9 1579.8,1007.3 1580.4,1016.8 1581.0,1017.1 1581.6,1017.8 1582.2,1026.8 1582.9,1018.9 1583.5,1019.7 1584.1,1021.4 1584.7,1020.1 1585.3,1024.9 1586.0,1020.4 1586.6,1021.5 1587.2,1029.2 1587.8,1019.0 1588.4,1016.8 1589.1,1021.7 1589.7,1018.9 1590.3,1018.8 1590.9,1021.9 1591.5,1024.2 1592.2,1015.6 1592.8,1020.4 1593.4,1013.6 1594.0,1024.4 1594.6,1017.4 1595.3,1023.4 1595.9,1027.5 1596.5,1025.9 1597.1,1022.6 1597.7,1013.9 1598.4,1027.8 1599.0,1019.5 1599.6,1023.9 1600.2,1019.2 1600.8,1020.2 1601.5,1026.8 1602.1,1015.0 1602.7,1016.6 1603.3,1020.0 1603.9,1024.8 1604.6,1012.0 1605.2,1025.5 1605.8,1019.5 1606.4,1023.5 1607.0,1030.5 1607.7,1022.9 1608.3,1025.0 1608.9,1026.0 1609.5,1019.9 1610.1,1021.5 1610.8,1020.4 1611.4,1021.8 1612.0,1019.9 1612.6,1019.2 1613.2,1018.8 1613.9,1023.8 1614.5,1016.2 1615.1,1021.4 1615.7,1026.0 1616.3,1016.0 1617.0,1014.7 1617.6,1023.4 1618.2,1018.1 1618.8,1018.3 1619.4,1023.3 1620.1,1022.1 1620.7,1018.5 1621.3,1019.8 1621.9,1015.6 1622.5,1018.8 1623.2,1020.6 1623.8,1022.9 1624.4,1023.0 1625.0,1027.2 1625.6,1020.6 1626.3,1024.5 1626.9,1021.9 1627.5,1017.3 1628.1,1022.0 1628.7,1022.1 1629.4,1023.3 1630.0,1022.6 1630.6,1021.3 1631.2,1017.6 1631.8,1019.7 1632.5,1021.9 1633.1,1023.2 1633.7,1023.7 1634.3,1022.1 1634.9,1023.1 1635.6,1026.0 1636.2,1021.5 1636.8,1018.8 1637.4,1015.7 1638.0,1020.9 1638.7,1023.0 1639.3,1019.4 1639.9,1026.1 1640.5,1017.6 1641.1,1019.4 1641.8,1020.5 1642.4,1016.2 1643.0,1024.3 1643.6,1017.9 1644.2,1016.4 1644.9,1014.0 1645.5,1023.9 1646.1,1025.2 1646.7,1016.9 1647.3,1015.4 1648.0,1018.9 1648.6,1020.5 1649.2,1018.6 1649.8,1022.2 1650.4,1016.7 1651.1,1027.9 1651.7,1021.8 1652.3,1024.1 1652.9,1019.0 1653.5,1024.0 1654.2,1026.5 1654.8,1017.9 1655.4,1021.0 1656.0,1024.1 1656.6,1022.0 1657.3,1017.5 1657.9,1018.8 1658.5,1022.6 1659.1,1021.7 1659.7,1018.1 1660.4,1021.7 1661.0,1012.5 1661.6,1020.7 1662.2,1023.9 1662.8,1023.8 1663.5,1018.9 1664.1,1021.3 1664.7,1021.2 1665.3,1020.0 1665.9,1017.5 1666.6,1015.2 1667.2,1018.1 1667.8,1015.8 1668.4,1012.5 1669.0,1024.4 1669.7,1014.7 1670.3,1017.5 1670.9,1017.4 1671.5,1013.4 1672.1,1020.8 1672.8,1013.3 1673.4,1025.8 1674.0,1014.4 1674.6,1016.5 1675.2,1018.7 1675.9,1018.8 1676.5,1019.3 1677.1,1023.4 1677.7,1024.4 1678.3,1028.2 1679.0,1015.9 1679.6,1024.1 1680.2,1022.8 1680.8,1019.3 1681.4,1015.7 1682.1,1029.2 1682.7,1024.9 1683.3,1014.0 1683.9,1026.0 1684.5,1022.2 1685.2,1021.4 1685.8,1023.4 1686.4,1018.3 1687.0,1020.0 1687.6,1023.9 1688.3,1016.2 1688.9,1015.4 1689.5,1014.3 1690.1,1023.1 1690.7,1016.5 1691.4,1019.1 1692.0,1018.5 1692.6,1022.4 1693.2,1021.6 1693.8,1017.3 1694.5,1025.4 1695.1,1021.8 1695.7,1021.5 1696.3,1018.6 1696.9,1019.0 1697.6,1019.3 1698.2,1020.2 1698.8,1021.7 1699.4,1021.7 1700.0,1019.2 1700.7,1019.7 1701.3,1022.7 1701.9,1024.5 1702.5,1024.7 1703.1,1020.0 1703.8,1015.5 1704.4,1020.7 1705.0,1020.7 1705.6,1020.4 1706.2,1021.9 1706.9,1018.2 1707.5,1020.5 1708.1,1011.6 1708.7,1026.5 1709.3,1020.1 1710.0,1018.8 1710.6,1021.9 1711.2,1019.1 1711.8,1017.3 1712.4,1023.0 1713.1,1020.2 1713.7,1017.5 1714.3,1022.4 1714.9,1021.5 1715.5,1021.3 1716.2,1018.8 1716.8,1023.8 1717.4,1016.6 1718.0,1022.9 1718.6,1025.3 1719.3,1016.5 1719.9,1020.6 1720.5,1013.2 1721.1,1019.8 1721.7,1013.3 1722.4,1014.5 1723.0,1019.7 1723.6,1022.4 1724.2,1019.6 1724.8,1016.0 1725.5,1012.8 1726.1,1014.4 1726.7,1021.7 1727.3,1016.7 1727.9,1005.7 1728.6,1007.4 1729.2,1005.0 1729.8,1013.1 1730.4,1011.2 1731.0,1008.1 1731.7,1014.4 1732.3,1014.5 1732.9,1013.4 1733.5,1016.8 1734.1,1021.8 1734.8,1015.6 1735.4,1017.9 1736.0,1014.2 1736.6,1018.0 1737.2,1024.5 1737.9,1021.5 1738.5,1017.0 1739.1,1017.4 1739.7,1024.1 1740.3,1019.1 1741.0,1017.7 1741.6,1023.7 1742.2,1018.1 1742.8,1017.0 1743.4,1021.1 1744.1,1014.9 1744.7,1018.1 1745.3,1016.8 1745.9,1020.2 1746.5,1019.3 1747.2,1026.4 1747.8,1022.2 1748.4,1019.8 1749.0,1021.8 1749.6,1019.0 1750.3,1020.7 1750.9,1021.9 1751.5,1021.5 1752.1,1024.9 1752.7,1021.8 1753.4,1017.2 1754.0,1020.7 1754.6,1015.7 1755.2,1027.1 1755.8,1013.0 1756.5,1019.3 1757.1,1021.5 1757.7,1016.3 1758.3,1018.1 1758.9,1023.4 1759.6,1015.2 1760.2,1023.0 1760.8,1018.8 1761.4,1018.3 1762.0,1026.8 1762.7,1022.4 1763.3,1021.0 1763.9,1018.7 1764.5,1020.2 1765.1,1019.0 1765.8,1026.2 1766.4,1020.3 1767.0,1016.9 1767.6,1017.8 1768.2,1021.0 1768.9,1015.6 1769.5,1016.8 1770.1,1013.7 1770.7,1011.2 1771.3,1027.8 1772.0,1018.8 1772.6,1026.0 1773.2,1021.6 1773.8,1020.6 1774.4,1015.6 1775.1,1019.4 1775.7,1020.2 1776.3,1016.3 1776.9,1022.2 1777.5,1024.0 1778.2,1021.3 1778.8,1020.3 1779.4,1013.4 1780.0,1029.6 1780.6,1022.3 1781.3,1015.3 1781.9,1015.4 1782.5,1017.1 1783.1,1015.9 1783.7,1019.7 1784.4,1016.4 1785.0,1020.0 1785.6,1017.9 1786.2,1018.5 1786.8,1015.2 1787.5,1020.1 1788.1,1020.4 1788.7,1016.5 1789.3,1013.4 1789.9,1019.6 1790.6,1012.9 1791.2,1016.5 1791.8,1021.1 1792.4,1023.9 1793.0,1018.3 1793.7,1020.5 1794.3,1024.0 1794.9,1015.5 1795.5,1017.7 1796.1,1020.3 1796.8,1024.1 1797.4,1015.0 1798.0,1014.8 1798.6,1022.7 1799.2,1023.6 1799.9,1016.9 1800.5,1019.4 1801.1,1022.7 1801.7,1018.4 1802.3,1012.2 1803.0,1019.9 1803.6,1022.6 1804.2,1014.5 1804.8,1023.8 1805.4,1017.9 1806.1,1012.5 1806.7,1019.8 1807.3,1013.5 1807.9,1024.0 1808.5,1020.8 1809.2,1025.5 1809.8,1012.9 1810.4,1019.5 1811.0,1024.3 1811.6,1023.4 1812.3,1021.3 1812.9,1020.3 1813.5,1021.3 1814.1,1022.7 1814.7,1025.5 1815.4,1012.5 1816.0,1015.2 1816.6,1016.8 1817.2,1019.7 1817.8,1020.3 1818.5,1017.6 1819.1,1018.6 1819.7,1021.7 1820.3,1023.3 1820.9,1016.0 1821.6,1017.9 1822.2,1019.1 1822.8,1028.0 1823.4,1016.4 1824.0,1020.0 1824.7,1019.0 1825.3,1017.3 1825.9,1022.2 1826.5,1018.5 1827.1,1017.0 1827.8,1019.0 1828.4,1019.7 1829.0,1016.4 1829.6,1016.1 1830.2,1022.8 1830.9,1016.6 1831.5,1022.0 1832.1,1018.1 1832.7,1015.6 1833.3,1014.5 1834.0,1012.4 1834.6,1021.1 1835.2,1020.9 1835.8,1017.0 1836.4,1014.6 1837.1,1016.5 1837.7,1019.0 1838.3,1023.0 1838.9,1016.0 1839.5,1012.2 1840.2,1019.1 1840.8,1017.0 1841.4,1015.2 1842.0,1011.5 1842.6,1020.3 1843.3,1023.4 1843.9,1014.5 1844.5,1012.7 1845.1,1016.2 1845.7,1017.0 1846.4,1020.0 1847.0,1018.4 1847.6,1011.9 1848.2,1019.0 1848.8,1019.1 1849.5,1016.1 1850.1,1019.1 1850.7,1013.0 1851.3,1016.7 1851.9,1013.0 1852.6,1017.9 1853.2,1020.7 1853.8,1010.8 1854.4,1018.0 1855.0,1020.6 1855.7,1018.8 1856.3,1023.8 1856.9,1017.7"/>
<polyline fill="none" stroke="#000" stroke-width="2.3" stroke-linejoin="bevel" points="319.3,1055.2 319.9,1049.8 320.5,1051.1 321.2,1052.0 321.8,1049.0 322.4,1051.0 323.0,1051.0 323.6,1046.6 324.3,1053.5 324.9,1052.4 325.5,1049.4 326.1,1050.5 326.7,1052.2 327.4,1050.3 328.0,1050.3 328.6,1047.3 329.2,1052.3 329.8,1051.2 330.5,1051.6 331.1,1047.0 331.7,1055.0 332.3,1051.2 332.9,1049.9 333.6,1055.9 334.2,1050.7 334.8,1047.2 335.4,1049.8 336.0,1045.1 336.7,1053.4 337.3,1049.8 337.9,1048.9 338.5,1053.5 339.1,1046.6 339.8,1052.1 340.4,1045.6 341.0,1049.1 341.6,1047.7 342.2,1054.4 342.9,1055.1 343.5,1049.9 344.1,1052.8 344.7,1050.3 345.3,1052.1 346.0,1048.8 346.6,1046.4 347.2,1046.2 347.8,1051.6 348.4,1056.3 349.1,1051.3 349.7,1049.3 350.3,1055.4 350.9,1051.2 351.5,1050.9 352.2,1051.3 352.8,1050.3 353.4,1049.8 354.0,1047.0 354.6,1051.9 355.3,1050.4 355.9,1053.6 356.5,1049.7 357.1,1045.8 357.7,1050.3 358.4,1054.8 359.0,1049.6 359.6,1048.3 360.2,1047.6 360.8,1047.9 361.5,1049.8 362.1,1047.6 362.7,1054.3 363.3,1049.8 363.9,1050.8 364.6,1054.1 365.2,1054.2 365.8,1049.9 366.4,1051.3 367.0,1052.3 367.7,1050.0 368.3,1046.0 368.9,1052.1 369.5,1052.7 370.1,1051.5 370.8,1048.1 371.4,1049.9 372.0,1048.9 372.6,1049.6 373.2,1053.6 373.9,1054.2 374.5,1052.0 375.1,1051.7 375.7,1052.0 376.3,1050.3 377.0,1050.2 377.6,1048.7 378.2,1050.2 378.8,1056.0 379.4,1052.5 380.1,1049.5 380.7,1049.1 381.3,1048.1 381.9,1051.2 382.5,1051.3 383.2,1046.7 383.8,1051.5 384.4,1048.8 385.0,1053.8 385.6,1050.6 386.3,1054.5 386.9,1049.1 387.5,1049.5 388.1,1051.0 388.7,1052.8 389.4,1051.6 390.0,1047.1 390.6,1050.6 391.2,1050.2 391.8,1049.1 392.5,1048.5 393.1,1054.5 393.7,1049.2 394.3,1048.0 394.9,1051.7 395.6,1050.4 396.2,1049.9 396.8,1052.0 397.4,1051.3 398.0,1051.0 398.7,1052.5 399.3,1050.8 399.9,1048.5 400.5,1049.1 401.1,1048.7 401.8,1050.5 402.4,1047.3 403.0,1045.4 403.6,1050.2 404.2,1046.6 404.9,1045.0 405.5,1050.8 406.1,1048.1 406.7,1051.1 407.3,1048.5 408.0,1047.0 408.6,1046.6 409.2,1048.4 409.8,1049.0 410.4,1047.5 411.1,1048.7 411.7,1045.4 412.3,1048.9 412.9,1043.6 413.5,1046.0 414.2,1045.3 414.8,1041.6 415.4,1036.7 416.0,1021.1 416.6,1020.4 417.3,1018.1 417.9,1018.8 418.5,1019.4 419.1,1030.0 419.7,1040.6 420.4,1037.7 421.0,1046.3 421.6,1049.9 422.2,1046.4 422.8,1050.1 423.5,1046.1 424.1,1046.9 424.7,1046.9 425.3,1049.5 425.9,1048.8 426.6,1051.4 427.2,1046.7 427.8,1048.7 428.4,1051.4 429.0,1050.4 429.7,1045.7 430.3,1050.6 430.9,1047.7 431.5,1049.9 432.1,1049.7 432.8,1051.9 433.4,1049.2 434.0,1044.2 434.6,1045.4 435.2,1050.6 435.9,1048.1 436.5,1051.6 437.1,1049.4 437.7,1046.8 438.3,1051.4 439.0,1046.6 439.6,1043.5 440.2,1053.8 440.8,1043.8 441.4,1050.1 442.1,1050.9 442.7,1048.9 443.3,1044.3 443.9,1051.0 444.5,1044.8 445.2,1045.0 445.8,1047.5 446.4,1050.3 447.0,1049.1 447.6,1050.3 448.3,1047.1 448.9,1047.8 449.5,1045.4 450.1,1047.4 450.7,1049.6 451.4,1047.4 452.0,1049.3 452.6,1046.6 453.2,1046.6 453.8,1048.1 454.5,1047.5 455.1,1049.4 455.7,1048.4 456.3,1052.3 456.9,1047.3 457.6,1047.3 458.2,1045.2 458.8,1047.8 459.4,1049.5 460.0,1045.9 460.7,1047.6 461.3,1049.5 461.9,1047.3 462.5,1046.3 463.1,1050.0 463.8,1047.8 464.4,1048.5 465.0,1050.4 465.6,1050.3 466.2,1046.6 466.9,1046.1 467.5,1048.1 468.1,1047.0 468.7,1042.6 469.3,1050.5 470.0,1047.3 470.6,1049.1 471.2,1044.3 471.8,1050.4 472.4,1045.7 473.1,1046.9 473.7,1043.6 474.3,1046.7 474.9,1046.5 475.5,1046.6 476.2,1048.1 476.8,1047.1 477.4,1049.4 478.0,1045.8 478.6,1044.4 479.3,1046.8 479.9,1048.4 480.5,1049.9 481.1,1048.8 481.7,1042.3 482.4,1047.7 483.0,1050.4 483.6,1046.8 484.2,1045.4 484.8,1047.4 485.5,1045.3 486.1,1048.2 486.7,1046.5 487.3,1050.0 487.9,1047.7 488.6,1044.6 489.2,1047.9 489.8,1048.7 490.4,1044.9 491.0,1045.3 491.7,1040.5 492.3,1048.5 492.9,1044.8 493.5,1040.9 494.1,1041.8 494.8,1045.6 495.4,1048.0 496.0,1045.9 496.6,1047.2 497.2,1043.3 497.9,1042.6 498.5,1048.2 499.1,1047.2 499.7,1045.8 500.3,1049.1 501.0,1043.4 501.6,1044.7 502.2,1048.3 502.8,1050.3 503.4,1045.7 504.1,1049.8 504.7,1044.0 505.3,1046.3 505.9,1045.0 506.5,1041.3 507.2,1045.8 507.8,1047.1 508.4,1043.9 509.0,1043.1 509.6,1045.3 510.3,1036.4 510.9,1032.8 511.5,1031.5 512.1,1026.8 512.7,1030.5 513.4,1026.7 514.0,1024.6 514.6,1027.7 515.2,1039.7 515.8,1034.4 516.5,1036.9 517.1,1041.9 517.7,1044.2 518.3,1044.1 518.9,1041.8 519.6,1041.5 520.2,1046.0 520.8,1044.4 521.4,1040.4 522.0,1047.4 522.7,1046.4 523.3,1043.9 523.9,1043.8 524.5,1045.0 525.1,1042.7 525.8,1041.0 526.4,1045.1 527.0,1040.7 527.6,1045.2 528.2,1040.6 528.9,1043.9 529.5,1043.8 530.1,1048.6 530.7,1041.4 531.3,1040.5 532.0,1042.4 532.6,1041.1 533.2,1042.4 533.8,1044.9 534.4,1045.8 535.1,1047.9 535.7,1041.9 536.3,1050.3 536.9,1048.5 537.5,1043.0 538.2,1037.6 538.8,1042.8 539.4,1042.7 540.0,1035.8 540.6,1040.2 541.3,1037.3 541.9,1032.8 542.5,1032.7 543.1,1030.0 543.7,1023.3 544.4,1023.5 545.0,1021.9 545.6,1023.9 546.2,1029.5 546.8,1034.2 547.5,1034.7 548.1,1033.2 548.7,1041.9 549.3,1037.6 549.9,1042.5 550.6,1046.9 551.2,1042.6 551.8,1039.7 552.4,1039.0 553.0,1045.6 553.7,1042.6 554.3,1044.0 554.9,1044.9 555.5,1042.5 556.1,1041.8 556.8,1040.2 557.4,1034.8 558.0,1038.7 558.6,1042.3 559.2,1042.0 559.9,1043.4 560.5,1042.1 561.1,1042.8 561.7,1044.3 562.3,1040.1 563.0,1041.5 563.6,1038.2 564.2,1044.6 564.8,1042.3 565.4,1043.3 566.1,1045.9 566.7,1044.7 567.3,1041.9 567.9,1043.9 568.5,1038.4 569.2,1043.0 569.8,1042.2 570.4,1037.8 571.0,1045.1 571.6,1040.0 572.3,1043.4 572.9,1040.6 573.5,1044.1 574.1,1044.9 574.7,1039.5 575.4,1037.7 576.0,1041.1 576.6,1043.6 577.2,1040.5 577.8,1039.8 578.5,1042.5 579.1,1034.3 579.7,1039.5 580.3,1037.7 580.9,1041.8 581.6,1039.2 582.2,1038.2 582.8,1040.1 583.4,1037.1 584.0,1040.5 584.7,1038.6 585.3,1039.1 585.9,1038.0 586.5,1041.8 587.1,1039.0 587.8,1040.4 588.4,1040.0 589.0,1036.5 589.6,1039.7 590.2,1038.9 590.9,1038.5 591.5,1036.5 592.1,1036.1 592.7,1038.9 593.3,1042.1 594.0,1034.3 594.6,1037.4 595.2,1034.8 595.8,1037.4 596.4,1036.2 597.1,1037.4 597.7,1027.5 598.3,1032.6 598.9,1031.2 599.5,1033.0 600.2,1031.1 600.8,1031.0 601.4,1033.9 602.0,1036.6 602.6,1024.4 603.3,1030.1 603.9,1031.1 604.5,1029.7 605.1,1028.1 605.7,1024.6 606.4,1024.5 607.0,1025.8 607.6,1024.0 608.2,1020.9 608.8,1015.9 609.5,1008.1 610.1,992.7 610.7,965.8 611.3,920.0 611.9,849.3 612.6,749.2 613.2,610.0 613.8,412.8 614.7,130.5 615.0,192.2 615.7,435.3 616.3,625.8 616.9,760.9 617.5,858.1 618.1,925.4 618.8,969.5 619.4,994.8 620.0,1009.0 620.6,1016.8 621.2,1021.3 621.9,1023.9 622.5,1025.9 623.1,1025.7 623.7,1030.2 624.3,1031.8 625.0,1028.7 625.6,1027.0 626.2,1033.0 626.8,1034.5 627.4,1031.7 628.1,1029.3 628.7,1033.6 629.3,1037.2 629.9,1029.0 630.5,1035.3 631.2,1033.7 631.8,1032.6 632.4,1036.3 633.0,1032.1 633.6,1036.4 634.3,1039.2 634.9,1036.7 635.5,1034.3 636.1,1032.3 636.7,1033.8 637.4,1032.6 638.0,1041.5 638.6,1036.9 639.2,1035.0 639.8,1034.4 640.5,1035.0 641.1,1036.8 641.7,1034.5 642.3,1041.9 642.9,1035.9 643.6,1035.8 644.2,1038.6 644.8,1041.5 645.4,1041.2 646.0,1036.6 646.7,1038.5 647.3,1038.3 647.9,1039.2 648.5,1038.5 649.1,1035.6 649.8,1034.8 650.4,1038.4 651.0,1035.0 651.6,1041.4 652.2,1038.1 652.9,1035.4 653.5,1037.2 654.1,1036.7 654.7,1037.7 655.3,1040.3 656.0,1034.4 656.6,1033.3 657.2,1038.8 657.8,1037.5 658.4,1038.4 659.1,1039.1 659.7,1037.5 660.3,1040.0 660.9,1035.8 661.5,1038.1 662.2,1035.9 662.8,1035.2 663.4,1039.5 664.0,1039.4 664.6,1033.1 665.3,1035.2 665.9,1038.7 666.5,1040.6 667.1,1036.3 667.7,1037.5 668.4,1034.4 669.0,1044.2 669.6,1039.0 670.2,1040.0 670.8,1039.3 671.5,1039.7 672.1,1038.5 672.7,1035.3 673.3,1036.8 673.9,1033.4 674.6,1034.3 675.2,1026.8 675.8,1025.2 676.4,1026.8 677.0,1028.2 677.7,1026.5 678.3,1026.3 678.9,1030.2 679.5,1031.4 680.1,1039.3 680.8,1038.1 681.4,1039.9 682.0,1038.0 682.6,1036.2 683.2,1040.6 683.9,1041.9 684.5,1039.3 685.1,1037.8 685.7,1040.5 686.3,1036.9 687.0,1039.8 687.6,1036.1 688.2,1035.4 688.8,1039.3 689.4,1038.7 690.1,1042.6 690.7,1037.2 691.3,1037.9 691.9,1035.0 692.5,1033.2 693.2,1033.4 693.8,1039.0 694.4,1034.9 695.0,1040.7 695.6,1041.4 696.3,1037.1 696.9,1042.0 697.5,1038.4 698.1,1040.6 698.7,1037.2 699.4,1040.2 700.0,1035.4 700.6,1039.4 701.2,1036.6 701.8,1037.5 702.5,1039.4 703.1,1038.2 703.7,1037.6 704.3,1039.6 704.9,1039.8 705.6,1034.3 706.2,1039.2 706.8,1039.4 707.4,1035.9 708.0,1038.7 708.7,1034.4 709.3,1041.3 709.9,1037.1 710.5,1037.5 711.1,1040.7 711.8,1037.4 712.4,1039.2 713.0,1035.1 713.6,1036.3 714.2,1034.2 714.9,1037.2 715.5,1040.2 716.1,1038.2 716.7,1039.9 717.3,1035.1 718.0,1035.4 718.6,1036.5 719.2,1039.0 719.8,1038.5 720.4,1037.5 721.1,1039.1 721.7,1037.1 722.3,1037.3 722.9,1040.5 723.5,1035.5 724.2,1037.0 724.8,1040.0 725.4,1035.5 726.0,1036.2 726.6,1032.0 727.3,1037.5 727.9,1026.1 728.5,1028.3 729.1,1028.3 729.7,1035.3 730.4,1032.9 731.0,1032.2 731.6,1030.6 732.2,1035.6 732.8,1035.8 733.5,1034.4 734.1,1032.9 734.7,1034.2 735.3,1037.7 735.9,1038.1 736.6,1037.6 737.2,1037.0 737.8,1033.0 738.4,1037.6 739.0,1034.9 739.7,1037.5 740.3,1038.6 740.9,1035.7 741.5,1034.9 742.1,1039.9 742.8,1038.3 743.4,1035.8 744.0,1029.8 744.6,1037.2 745.2,1038.8 745.9,1040.0 746.5,1035.5 747.1,1035.5 747.7,1036.0 748.3,1039.2 749.0,1034.1 749.6,1036.7 750.2,1034.6 750.8,1037.6 751.4,1033.0 752.1,1037.8 752.7,1035.6 753.3,1036.2 753.9,1038.1 754.5,1039.6 755.2,1032.4 755.8,1039.1 756.4,1038.0 757.0,1035.8 757.6,1040.0 758.3,1037.0 758.9,1039.7 759.5,1034.9 760.1,1034.2 760.7,1039.4 761.4,1041.7 762.0,1037.8 762.6,1038.5 763.2,1035.0 763.8,1032.8 764.5,1035.5 765.1,1039.8 765.7,1031.4 766.3,1034.8 766.9,1031.2 767.6,1036.2 768.2,1038.1 768.8,1032.7 769.4,1034.8 770.0,1039.1 770.7,1035.5 771.3,1032.6 771.9,1032.4 772.5,1030.6 773.1,1037.5 773.8,1033.7 774.4,1038.1 775.0,1037.6 775.6,1033.8 776.2,1034.1 776.9,1037.3 777.5,1035.7 778.1,1036.0 778.7,1031.1 779.3,1037.5 780.0,1033.0 780.6,1029.5 781.2,1033.6 781.8,1036.1 782.4,1040.3 783.1,1034.1 783.7,1031.6 784.3,1040.2 784.9,1035.3 785.5,1034.2 786.2,1032.1 786.8,1032.3 787.4,1038.4 788.0,1034.0 788.6,1033.3 789.3,1033.3 789.9,1038.5 790.5,1033.1 791.1,1036.1 791.7,1035.1 792.4,1035.0 793.0,1032.2 793.6,1036.0 794.2,1038.3 794.8,1034.1 795.5,1031.9 796.1,1030.9 796.7,1034.6 797.3,1033.4 797.9,1033.8 798.6,1034.0 799.2,1030.3 799.8,1035.9 800.4,1034.4 801.0,1033.6 801.7,1034.3 802.3,1036.0 802.9,1033.8 803.5,1031.5 804.1,1036.4 804.8,1032.4 805.4,1031.6 806.0,1029.4 806.6,1033.3 807.2,1030.5 807.9,1031.8 808.5,1034.1 809.1,1032.9 809.7,1035.1 810.3,1032.9 811.0,1030.4 811.6,1029.3 812.2,1026.5 812.8,1025.5 813.4,1018.2 814.1,1009.6 814.7,1004.3 815.3,994.6 815.9,988.4 816.5,986.0 817.2,995.9 817.8,1003.2 818.4,1011.0 819.0,1017.0 819.6,1021.4 820.3,1026.4 820.9,1029.6 821.5,1029.8 822.1,1030.2 822.7,1029.7 823.4,1031.8 824.0,1031.5 824.6,1029.1 825.2,1032.9 825.8,1033.0 826.5,1033.0 827.1,1030.6 827.7,1030.5 828.3,1028.0 828.9,1032.8 829.6,1025.5 830.2,1029.9 830.8,1029.9 831.4,1032.9 832.0,1030.7 832.7,1028.3 833.3,1027.1 833.9,1028.8 834.5,1030.8 835.1,1030.7 835.8,1030.0 836.4,1028.7 837.0,1029.9 837.6,1032.9 838.2,1027.6 838.9,1030.4 839.5,1034.3 840.1,1031.6 840.7,1029.0 841.3,1031.7 842.0,1028.2 842.6,1030.0 843.2,1033.8 843.8,1034.6 844.4,1025.6 845.1,1031.6 845.7,1034.6 846.3,1028.3 846.9,1030.3 847.5,1033.3 848.2,1028.2 848.8,1030.4 849.4,1028.9 850.0,1024.0 850.6,1029.4 851.3,1027.7 851.9,1030.2 852.5,1032.7 853.1,1028.9 853.7,1026.1 854.4,1028.1 855.0,1027.6 855.6,1029.8 856.2,1024.0 856.8,1024.9 857.5,1023.0 858.1,1029.8 858.7,1028.4 859.3,1026.9 859.9,1026.7 860.6,1027.1 861.2,1026.2 861.8,1027.7 862.4,1027.3 863.0,1031.9 863.7,1029.2 864.3,1026.3 864.9,1026.9 865.5,1031.3 866.1,1029.4 866.8,1028.9 867.4,1029.9 868.0,1032.0 868.6,1025.0 869.2,1026.1 869.9,1023.6 870.5,1029.2 871.1,1027.0 871.7,1026.2 872.3,1026.0 873.0,1029.6 873.6,1027.5 874.2,1026.5 874.8,1031.0 875.4,1025.2 876.1,1024.7 876.7,1034.3 877.3,1026.9 877.9,1026.4 878.5,1025.9 879.2,1027.4 879.8,1029.7 880.4,1029.6 881.0,1029.0 881.6,1026.9 882.3,1023.9 882.9,1028.3 883.5,1031.3 884.1,1030.1 884.7,1026.9 885.4,1029.2 886.0,1025.8 886.6,1025.8 887.2,1021.2 887.8,1020.9 888.5,1018.2 889.1,1012.8 889.7,1010.8 890.3,1011.0 890.9,1009.7 891.6,1008.5 892.2,1011.8 892.8,1016.5 893.4,1019.4 894.0,1024.5 894.7,1026.9 895.3,1027.1 895.9,1027.5 896.5,1027.6 897.1,1026.9 897.8,1025.4 898.4,1031.6 899.0,1029.9 899.6,1025.1 900.2,1025.1 900.9,1025.9 901.5,1027.4 902.1,1030.5 902.7,1029.9 903.3,1030.0 904.0,1030.0 904.6,1030.1 905.2,1029.1 905.8,1028.4 906.4,1026.9 907.1,1022.8 907.7,1026.8 908.3,1031.6 908.9,1025.7 909.5,1025.4 910.2,1029.5 910.8,1027.1 911.4,1025.6 912.0,1030.6 912.6,1028.2 913.3,1028.5 913.9,1025.1 914.5,1027.6 915.1,1027.2 915.7,1028.0 916.4,1028.6 917.0,1028.0 917.6,1024.5 918.2,1023.8 918.8,1015.7 919.5,1014.8 920.1,1007.6 920.7,996.2 921.3,986.8 921.9,982.4 922.6,978.1 923.2,986.0 923.8,993.5 924.4,999.2 925.0,1009.7 925.7,1018.5 926.3,1022.8 926.9,1025.2 927.5,1023.7 928.1,1024.0 928.8,1024.2 929.4,1026.8 930.0,1031.3 930.6,1029.0 931.2,1029.4 931.9,1028.7 932.5,1021.1 933.1,1024.5 933.7,1023.7 934.3,1027.7 935.0,1028.7 935.6,1022.6 936.2,1024.2 936.8,1025.3 937.4,1022.5 938.1,1021.9 938.7,1021.6 939.3,1025.3 939.9,1020.6 940.5,1025.5 941.2,1022.7 941.8,1024.2 942.4,1026.0 943.0,1020.2 943.6,1019.6 944.3,1022.6 944.9,1018.7 945.5,1019.3 946.1,1020.6 946.7,1021.1 947.4,1017.4 948.0,1019.3 948.6,1021.5 949.2,1023.2 949.8,1014.8 950.5,1022.7 951.1,1021.4 951.7,1016.3 952.3,1015.2 952.9,1019.7 953.6,1017.4 954.2,1018.5 954.8,1020.1 955.4,1016.8 956.0,1018.0 956.7,1018.5 957.3,1019.3 957.9,1021.3 958.5,1020.9 959.1,1017.1 959.8,1015.7 960.4,1022.0 961.0,1017.4 961.6,1016.7 962.2,1012.7 962.9,1017.1 963.5,1013.0 964.1,1013.6 964.7,1011.2 965.3,1013.0 966.0,1014.3 966.6,1010.2 967.2,1011.5 967.8,1013.3 968.4,1010.1 969.1,1009.9 969.7,1010.8 970.3,1009.1 970.9,1013.9 971.5,1009.7 972.2,1013.9 972.8,1014.0 973.4,1008.6 974.0,1011.5 974.6,1010.0 975.3,1008.2 975.9,1010.0 976.5,1010.0 977.1,1012.2 977.7,1012.8 978.4,1007.3 979.0,1008.9 979.6,1011.0 980.2,1012.5 980.8,1003.3 981.5,1012.4 982.1,1008.6 982.7,1012.6 983.3,1007.6 983.9,1006.4 984.6,1008.4 985.2,1011.0 985.8,1008.0 986.4,1001.8 987.0,1009.2 987.7,1003.3 988.3,1004.7 988.9,1004.1 989.5,1002.2 990.1,1003.5 990.8,1004.0 991.4,1004.7 992.0,1005.9 992.6,1005.0 993.2,1002.0 993.9,1005.1 994.5,1007.7 995.1,1007.4 995.7,1005.1 996.3,1006.0 997.0,1006.4 997.6,1007.3 998.2,1007.9 998.8,1002.6 999.4,1002.5 1000.1,1006.6 1000.7,1006.6 1001.3,1006.3 1001.9,996.1 1002.5,1001.3 1003.2,993.1 1003.8,1003.2 1004.4,1001.2 1005.0,1000.9 1005.6,1000.1 1006.3,1003.8 1006.9,999.2 1007.5,1002.5 1008.1,1001.0 1008.7,1000.2 1009.4,1000.2 1010.0,999.0 1010.6,995.3 1011.2,1000.2 1011.8,999.9 1012.5,997.2 1013.1,999.5 1013.7,999.7 1014.3,992.9 1014.9,995.9 1015.6,994.6 1016.2,992.8 1016.8,996.1 1017.4,992.2 1018.0,993.0 1018.7,994.7 1019.3,994.7 1019.9,994.2 1020.5,999.9 1021.1,990.8 1021.8,992.8 1022.4,987.7 1023.0,992.8 1023.6,994.6 1024.2,994.4 1024.9,987.9 1025.5,988.6 1026.1,993.4 1026.7,988.4 1027.3,991.6 1028.0,984.5 1028.6,992.2 1029.2,990.5 1029.8,988.1 1030.4,983.3 1031.1,985.1 1031.7,985.4 1032.3,984.4 1032.9,980.8 1033.5,976.7 1034.2,972.9 1034.8,970.5 1035.4,950.2 1036.0,944.8 1036.6,938.3 1037.3,939.4 1037.9,938.2 1038.5,953.0 1039.1,958.9 1039.7,965.1 1040.4,969.9 1041.0,977.9 1041.6,981.2 1042.2,983.7 1042.8,980.7 1043.5,986.6 1044.1,978.5 1044.7,989.4 1045.3,972.0 1045.9,981.7 1046.6,979.1 1047.2,986.8 1047.8,977.4 1048.4,990.4 1049.0,976.7 1049.7,990.7 1050.3,984.1 1050.9,982.2 1051.5,983.5 1052.1,990.3 1052.8,984.8 1053.4,972.0 1054.0,985.5 1054.6,981.3 1055.2,973.7 1055.9,982.9 1056.5,974.7 1057.1,980.0 1057.7,980.0 1058.3,976.1 1059.0,981.0 1059.6,974.1 1060.2,978.7 1060.8,975.4 1061.4,976.6 1062.1,984.8 1062.7,977.3 1063.3,972.3 1063.9,975.9 1064.5,973.0 1065.2,976.0 1065.8,976.3 1066.4,975.7 1067.0,975.5 1067.6,972.7 1068.3,976.4 1068.9,978.6 1069.5,971.7 1070.1,973.7 1070.7,973.9 1071.4,978.4 1072.0,977.5 1072.6,970.0 1073.2,973.0 1073.8,966.4 1074.5,968.3 1075.1,972.0 1075.7,974.2 1076.3,975.2 1076.9,969.9 1077.6,965.5 1078.2,972.3 1078.8,969.7 1079.4,971.9 1080.0,970.6 1080.7,972.7 1081.3,972.4 1081.9,973.1 1082.5,967.8 1083.1,973.5 1083.8,967.4 1084.4,969.7 1085.0,976.7 1085.6,970.6 1086.2,964.5 1086.9,975.0 1087.5,973.0 1088.1,973.4 1088.7,969.6 1089.3,970.1 1090.0,967.7 1090.6,965.7 1091.2,974.6 1091.8,966.9 1092.4,966.4 1093.1,966.4 1093.7,975.6 1094.3,971.6 1094.9,966.5 1095.5,967.8 1096.2,970.1 1096.8,971.7 1097.4,961.8 1098.0,971.9 1098.6,967.5 1099.3,965.7 1099.9,967.0 1100.5,971.8 1101.1,975.7 1101.7,969.4 1102.4,971.1 1103.0,965.7 1103.6,971.0 1104.2,972.4 1104.8,963.2 1105.5,967.2 1106.1,972.4 1106.7,962.3 1107.3,967.9 1107.9,971.9 1108.6,962.7 1109.2,967.9 1109.8,969.6 1110.4,972.8 1111.0,963.8 1111.7,973.0 1112.3,969.0 1112.9,971.5 1113.5,969.9 1114.1,964.9 1114.8,963.7 1115.4,953.2 1116.0,953.7 1116.6,955.1 1117.2,958.8 1117.9,965.9 1118.5,957.7 1119.1,966.0 1119.7,964.5 1120.3,965.6 1121.0,978.8 1121.6,974.9 1122.2,981.6 1122.8,980.6 1123.4,973.3 1124.1,970.3 1124.7,985.2 1125.3,976.5 1125.9,974.1 1126.5,981.1 1127.2,979.4 1127.8,976.8 1128.4,978.3 1129.0,980.3 1129.6,980.3 1130.3,983.0 1130.9,979.4 1131.5,979.8 1132.1,983.3 1132.7,982.6 1133.4,985.5 1134.0,981.3 1134.6,982.1 1135.2,978.8 1135.8,987.9 1136.5,978.7 1137.1,984.2 1137.7,980.9 1138.3,985.2 1138.9,986.8 1139.6,979.5 1140.2,984.3 1140.8,979.5 1141.4,989.6 1142.0,983.9 1142.7,980.6 1143.3,983.4 1143.9,989.6 1144.5,990.2 1145.1,989.7 1145.8,983.7 1146.4,985.7 1147.0,991.0 1147.6,984.2 1148.2,985.5 1148.9,983.8 1149.5,983.4 1150.1,990.2 1150.7,988.7 1151.3,988.3 1152.0,988.7 1152.6,990.0 1153.2,991.4 1153.8,987.0 1154.4,985.9 1155.1,983.8 1155.7,989.2 1156.3,984.7 1156.9,982.0 1157.5,984.9 1158.2,985.4 1158.8,987.2 1159.4,987.4 1160.0,982.8 1160.6,982.3 1161.3,983.2 1161.9,980.7 1162.5,983.1 1163.1,984.1 1163.7,983.0 1164.4,978.4 1165.0,978.6 1165.6,983.1 1166.2,974.9 1166.8,975.8 1167.5,971.2 1168.1,963.9 1168.7,957.3 1169.3,956.1 1169.9,951.0 1170.6,952.9 1171.2,956.4 1171.8,959.0 1172.4,965.9 1173.0,971.4 1173.7,974.3 1174.3,981.3 1174.9,983.6 1175.5,983.1 1176.1,988.5 1176.8,989.9 1177.4,990.0 1178.0,987.0 1178.6,994.7 1179.2,994.9 1179.9,995.3 1180.5,994.9 1181.1,991.3 1181.7,995.2 1182.3,993.0 1183.0,1001.1 1183.6,994.8 1184.2,998.1 1184.8,992.9 1185.4,994.3 1186.1,996.2 1186.7,999.4 1187.3,999.1 1187.9,998.5 1188.5,993.2 1189.2,1000.7 1189.8,995.6 1190.4,1002.0 1191.0,1002.6 1191.6,1000.0 1192.3,1000.3 1192.9,994.5 1193.5,1003.8 1194.1,997.3 1194.7,998.4 1195.4,992.5 1196.0,992.8 1196.6,987.7 1197.2,987.1 1197.8,984.1 1198.5,980.5 1199.1,978.8 1199.7,971.6 1200.3,966.3 1200.9,961.7 1201.6,963.5 1202.2,955.6 1202.8,960.5 1203.4,955.0 1204.0,961.5 1204.7,969.5 1205.3,973.1 1205.9,986.2 1206.5,989.9 1207.1,984.0 1207.8,988.8 1208.4,994.1 1209.0,1001.3 1209.6,1001.6 1210.2,1001.0 1210.9,997.7 1211.5,999.9 1212.1,995.8 1212.7,999.2 1213.3,1004.4 1214.0,1005.7 1214.6,1000.8 1215.2,1004.6 1215.8,1008.7 1216.4,1005.3 1217.1,1004.3 1217.7,1006.9 1218.3,1006.9 1218.9,1006.1 1219.5,1004.8 1220.2,1005.3 1220.8,1006.8 1221.4,1005.5 1222.0,1010.4 1222.6,1009.5 1223.3,1010.3 1223.9,1012.9 1224.5,1012.0 1225.1,1011.8 1225.7,1009.4 1226.4,1008.2 1227.0,1014.7 1227.6,1007.5 1228.2,1007.9 1228.8,1007.5 1229.5,1010.4 1230.1,1011.1 1230.7,1012.9 1231.3,1010.0 1231.9,1006.5 1232.6,1011.8 1233.2,1013.7 1233.8,1011.6 1234.4,1011.4 1235.0,1013.3 1235.7,1015.6 1236.3,1011.9 1236.9,1008.6 1237.5,1010.8 1238.1,1011.9 1238.8,1007.9 1239.4,1014.4 1240.0,1010.6 1240.6,1013.8 1241.2,1013.1 1241.9,1011.9 1242.5,1016.9 1243.1,1011.5 1243.7,1011.3 1244.3,1013.7 1245.0,1015.2 1245.6,1013.1 1246.2,1010.8 1246.8,1015.0 1247.4,1014.9 1248.1,1018.6 1248.7,1012.9 1249.3,1014.1 1249.9,1012.2 1250.5,1010.0 1251.2,1014.0 1251.8,1016.0 1252.4,1011.4 1253.0,1012.3 1253.6,1011.1 1254.3,1017.5 1254.9,1012.6 1255.5,1015.7 1256.1,1012.2 1256.7,1014.6 1257.4,1012.9 1258.0,1008.7 1258.6,1014.8 1259.2,1016.0 1259.8,1009.6 1260.5,1014.4 1261.1,1013.8 1261.7,1012.3 1262.3,1014.4 1262.9,1010.3 1263.6,1015.8 1264.2,1018.2 1264.8,1012.2 1265.4,1015.2 1266.0,1019.0 1266.7,1015.8 1267.3,1014.2 1267.9,1013.3 1268.5,1016.0 1269.1,1015.3 1269.8,1017.2 1270.4,1011.9 1271.0,1018.4 1271.6,1014.8 1272.2,1017.4 1272.9,1014.0 1273.5,1012.6 1274.1,1014.5 1274.7,1013.5 1275.3,1015.0 1276.0,1017.6 1276.6,1018.7 1277.2,1016.6 1277.8,1014.7 1278.4,1015.0 1279.1,1017.6 1279.7,1019.0 1280.3,1015.4 1280.9,1015.9 1281.5,1014.4 1282.2,1016.8 1282.8,1018.7 1283.4,1009.1 1284.0,1017.1 1284.6,1015.1 1285.3,1010.7 1285.9,1017.3 1286.5,1016.3 1287.1,1017.5 1287.7,1013.2 1288.4,1022.0 1289.0,1016.9 1289.6,1015.8 1290.2,1020.5 1290.8,1018.4 1291.5,1018.9 1292.1,1019.7 1292.7,1011.7 1293.3,1021.1 1293.9,1016.1 1294.6,1017.7 1295.2,1019.3 1295.8,1015.2 1296.4,1017.9 1297.0,1019.0 1297.7,1017.0 1298.3,1018.4 1298.9,1013.2 1299.5,1014.2 1300.1,1014.4 1300.8,1018.2 1301.4,1026.7 1302.0,1018.0 1302.6,1017.0 1303.2,1017.3 1303.9,1019.9 1304.5,1019.3 1305.1,1014.6 1305.7,1020.1 1306.3,1017.5 1307.0,1019.7 1307.6,1012.6 1308.2,1013.8 1308.8,1019.2 1309.4,1013.2 1310.1,1018.7 1310.7,1018.6 1311.3,1018.2 1311.9,1018.8 1312.5,1018.6 1313.2,1019.0 1313.8,1016.9 1314.4,1017.9 1315.0,1025.3 1315.6,1020.9 1316.3,1019.6 1316.9,1019.1 1317.5,1016.3 1318.1,1018.8 1318.7,1017.6 1319.4,1020.6 1320.0,1016.0 1320.6,1012.4 1321.2,1016.9 1321.8,1020.1 1322.5,1024.6 1323.1,1021.0 1323.7,1016.0 1324.3,1018.0 1324.9,1016.2 1325.6,1018.1 1326.2,1016.4 1326.8,1014.5 1327.4,1019.8 1328.0,1019.2 1328.7,1018.3 1329.3,1019.6 1329.9,1023.9 1330.5,1019.1 1331.1,1017.9 1331.8,1021.1 1332.4,1014.8 1333.0,1020.8 1333.6,1017.1 1334.2,1017.0 1334.9,1019.3 1335.5,1023.3 1336.1,1017.3 1336.7,1021.5 1337.3,1020.1 1338.0,1015.7 1338.6,1021.5 1339.2,1017.2 1339.8,1015.6 1340.4,1017.4 1341.1,1017.6 1341.7,1020.9 1342.3,1017.6 1342.9,1023.2 1343.5,1020.1 1344.2,1017.7 1344.8,1017.5 1345.4,1020.2 1346.0,1014.6 1346.6,1014.2 1347.3,1017.5 1347.9,1021.3 1348.5,1020.2 1349.1,1019.8 1349.7,1019.3 1350.4,1014.4 1351.0,1019.1 1351.6,1015.5 1352.2,1022.0 1352.8,1020.0 1353.5,1019.8 1354.1,1021.0 1354.7,1020.8 1355.3,1020.6 1355.9,1020.8 1356.6,1018.5 1357.2,1016.6 1357.8,1020.8 1358.4,1023.6 1359.0,1022.5 1359.7,1019.4 1360.3,1021.5 1360.9,1018.9 1361.5,1020.9 1362.1,1018.4 1362.8,1020.3 1363.4,1025.0 1364.0,1021.9 1364.6,1023.7 1365.2,1018.0 1365.9,1018.2 1366.5,1019.8 1367.1,1021.3 1367.7,1019.4 1368.3,1022.5 1369.0,1018.5 1369.6,1023.3 1370.2,1022.3 1370.8,1017.1 1371.4,1021.4 1372.1,1019.3 1372.7,1022.5 1373.3,1018.6 1373.9,1020.7 1374.5,1021.3 1375.2,1013.0 1375.8,1015.2 1376.4,1020.2 1377.0,1019.6 1377.6,1022.4 1378.3,1020.4 1378.9,1016.7 1379.5,1020.7 1380.1,1018.0 1380.7,1019.3 1381.4,1018.6 1382.0,1020.7 1382.6,1016.3 1383.2,1017.1 1383.8,1014.3 1384.5,1025.2 1385.1,1017.3 1385.7,1017.7 1386.3,1017.0 1386.9,1018.2 1387.6,1018.7 1388.2,1021.4 1388.8,1020.3 1389.4,1020.6 1390.0,1018.3 1390.7,1019.6 1391.3,1022.9 1391.9,1019.8 1392.5,1020.6 1393.1,1014.7 1393.8,1021.1 1394.4,1020.4 1395.0,1023.0 1395.6,1012.9 1396.2,1019.9 1396.9,1019.5 1397.5,1020.0 1398.1,1018.2 1398.7,1020.3 1399.3,1021.5 1400.0,1019.9 1400.6,1019.0 1401.2,1019.2 1401.8,1018.8 1402.4,1019.8 1403.1,1017.9 1403.7,1014.7 1404.3,1023.1 1404.9,1015.3 1405.5,1019.4 1406.2,1016.4 1406.8,1019.0 1407.4,1017.3 1408.0,1019.6 1408.6,1017.6 1409.3,1016.4 1409.9,1020.4 1410.5,1023.0 1411.1,1020.5 1411.7,1019.9 1412.4,1017.0 1413.0,1019.4 1413.6,1020.7 1414.2,1018.0 1414.8,1021.9 1415.5,1019.5 1416.1,1020.5 1416.7,1018.4 1417.3,1018.4 1417.9,1020.1 1418.6,1020.6 1419.2,1020.5 1419.8,1017.0 1420.4,1017.7 1421.0,1019.5 1421.7,1014.9 1422.3,1022.2 1422.9,1020.3 1423.5,1019.7 1424.1,1017.8 1424.8,1021.6 1425.4,1018.9 1426.0,1024.3 1426.6,1020.5 1427.2,1015.8 1427.9,1021.3 1428.5,1018.2 1429.1,1018.2 1429.7,1018.9 1430.3,1019.2 1431.0,1020.1 1431.6,1021.4 1432.2,1020.6 1432.8,1017.7 1433.4,1016.1 1434.1,1017.5 1434.7,1020.4 1435.3,1021.6 1435.9,1024.0 1436.5,1016.1 1437.2,1019.7 1437.8,1018.9 1438.4,1018.5 1439.0,1019.8 1439.6,1018.8 1440.3,1018.8 1440.9,1017.8 1441.5,1020.4 1442.1,1022.1 1442.7,1023.5 1443.4,1018.1 1444.0,1016.8 1444.6,1018.8 1445.2,1017.3 1445.8,1022.0 1446.5,1017.4 1447.1,1019.6 1447.7,1016.0 1448.3,1018.5 1448.9,1019.9 1449.6,1023.2 1450.2,1017.7 1450.8,1020.3 1451.4,1014.2 1452.0,1016.4 1452.7,1017.3 1453.3,1018.1 1453.9,1020.4 1454.5,1020.9 1455.1,1015.3 1455.8,1020.7 1456.4,1016.6 1457.0,1023.9 1457.6,1020.1 1458.2,1019.7 1458.9,1018.9 1459.5,1019.2 1460.1,1019.3 1460.7,1017.6 1461.3,1021.2 1462.0,1020.0 1462.6,1021.2 1463.2,1019.2 1463.8,1021.1 1464.4,1017.5 1465.1,1028.3 1465.7,1017.6 1466.3,1018.3 1466.9,1021.8 1467.5,1022.5 1468.2,1017.5 1468.8,1015.3 1469.4,1015.9 1470.0,1016.8 1470.6,1017.2 1471.3,1018.5 1471.9,1021.0 1472.5,1020.5 1473.1,1015.5 1473.7,1017.3 1474.4,1017.0 1475.0,1017.0 1475.6,1011.9 1476.2,1009.5 1476.8,1012.7 1477.5,1014.8 1478.1,1010.5 1478.7,1017.8 1479.3,1018.6 1479.9,1014.9 1480.6,1012.8 1481.2,1016.2 1481.8,1017.6 1482.4,1020.4 1483.0,1015.2 1483.7,1025.7 1484.3,1025.7 1484.9,1018.1 1485.5,1015.3 1486.1,1019.6 1486.8,1021.1 1487.4,1023.5 1488.0,1021.9 1488.6,1019.6 1489.2,1015.2 1489.9,1021.5 1490.5,1022.3 1491.1,1019.5 1491.7,1020.9 1492.3,1020.8 1493.0,1019.7 1493.6,1017.4 1494.2,1021.2 1494.8,1016.8 1495.4,1023.9 1496.1,1018.2 1496.7,1021.7 1497.3,1018.6 1497.9,1021.4 1498.5,1020.0 1499.2,1021.8 1499.8,1018.5 1500.4,1016.5 1501.0,1019.9 1501.6,1019.7 1502.3,1016.8 1502.9,1018.9 1503.5,1016.5 1504.1,1020.9 1504.7,1019.7 1505.4,1020.7 1506.0,1027.2 1506.6,1021.1 1507.2,1021.7 1507.8,1022.4 1508.5,1020.5 1509.1,1019.3 1509.7,1023.0 1510.3,1023.4 1510.9,1013.6 1511.6,1020.5 1512.2,1020.1 1512.8,1019.5 1513.4,1024.1 1514.0,1019.6 1514.7,1023.2 1515.3,1019.7 1515.9,1020.0 1516.5,1022.9 1517.1,1019.2 1517.8,1020.7 1518.4,1018.4 1519.0,1018.9 1519.6,1023.0 1520.2,1022.6 1520.9,1018.3 1521.5,1018.3 1522.1,1027.6 1522.7,1019.6 1523.3,1019.1 1524.0,1022.6 1524.6,1019.3 1525.2,1020.4 1525.8,1023.5 1526.4,1023.7 1527.1,1020.7 1527.7,1024.6 1528.3,1020.9 1528.9,1020.6 1529.5,1021.2 1530.2,1020.4 1530.8,1022.5 1531.4,1021.9 1532.0,1019.2 1532.6,1021.6 1533.3,1019.8 1533.9,1019.7 1534.5,1020.7 1535.1,1023.6 1535.7,1021.8 1536.4,1024.2 1537.0,1024.9 1537.6,1020.9 1538.2,1019.5 1538.8,1019.0 1539.5,1021.7 1540.1,1023.1 1540.7,1024.9 1541.3,1017.7 1541.9,1023.3 1542.6,1023.6 1543.2,1027.0 1543.8,1021.4 1544.4,1020.8 1545.0,1017.1 1545.7,1018.9 1546.3,1018.1 1546.9,1018.3 1547.5,1018.6 1548.1,1017.0 1548.8,1020.6 1549.4,1021.8 1550.0,1022.7 1550.6,1020.6 1551.2,1023.5 1551.9,1023.5 1552.5,1017.0 1553.1,1020.1 1553.7,1017.7 1554.3,1018.4 1555.0,1021.3 1555.6,1020.5 1556.2,1024.5 1556.8,1025.9 1557.4,1021.9 1558.1,1020.3 1558.7,1020.5 1559.3,1020.8 1559.9,1022.3 1560.5,1019.0 1561.2,1022.3 1561.8,1020.2 1562.4,1023.5 1563.0,1024.2 1563.6,1025.2 1564.3,1020.4 1564.9,1017.4 1565.5,1016.6 1566.1,1020.1 1566.7,1017.3 1567.4,1016.7 1568.0,1019.9 1568.6,1018.3 1569.2,1022.5 1569.8,1025.6 1570.5,1020.1 1571.1,1021.3 1571.7,1016.4 1572.3,1020.4 1572.9,1017.7 1573.6,1016.0 1574.2,1013.1 1574.8,1020.6 1575.4,1011.2 1576.0,1010.8 1576.7,1012.5 1577.3,1012.1 1577.9,1011.6 1578.5,1011.4 1579.1,1009.8 1579.8,1015.3 1580.4,1015.3 1581.0,1012.5 1581.6,1021.4 1582.2,1017.6 1582.9,1021.7 1583.5,1016.2 1584.1,1017.3 1584.7,1019.1 1585.3,1018.9 1586.0,1023.3 1586.6,1016.7 1587.2,1021.2 1587.8,1018.3 1588.4,1022.1 1589.1,1021.4 1589.7,1019.5 1590.3,1026.4 1590.9,1020.8 1591.5,1023.6 1592.2,1017.6 1592.8,1020.6 1593.4,1021.1 1594.0,1021.2 1594.6,1020.0 1595.3,1018.8 1595.9,1013.2 1596.5,1019.5 1597.1,1018.6 1597.7,1020.3 1598.4,1023.1 1599.0,1026.5 1599.6,1022.2 1600.2,1023.5 1600.8,1022.5 1601.5,1022.7 1602.1,1022.4 1602.7,1020.3 1603.3,1020.1 1603.9,1021.8 1604.6,1025.4 1605.2,1022.9 1605.8,1025.0 1606.4,1017.7 1607.0,1021.6 1607.7,1022.0 1608.3,1022.3 1608.9,1017.5 1609.5,1016.3 1610.1,1015.6 1610.8,1020.0 1611.4,1026.8 1612.0,1021.5 1612.6,1017.9 1613.2,1021.8 1613.9,1020.2 1614.5,1021.4 1615.1,1019.8 1615.7,1017.7 1616.3,1019.6 1617.0,1022.8 1617.6,1021.7 1618.2,1024.0 1618.8,1018.3 1619.4,1023.6 1620.1,1021.1 1620.7,1021.4 1621.3,1024.1 1621.9,1020.6 1622.5,1021.6 1623.2,1022.5 1623.8,1022.6 1624.4,1023.0 1625.0,1024.2 1625.6,1022.3 1626.3,1019.8 1626.9,1027.1 1627.5,1020.9 1628.1,1021.9 1628.7,1019.1 1629.4,1015.5 1630.0,1019.0 1630.6,1021.1 1631.2,1022.2 1631.8,1021.0 1632.5,1022.9 1633.1,1023.4 1633.7,1023.4 1634.3,1020.9 1634.9,1021.1 1635.6,1020.3 1636.2,1018.7 1636.8,1024.4 1637.4,1017.7 1638.0,1020.7 1638.7,1021.4 1639.3,1015.5 1639.9,1022.7 1640.5,1019.9 1641.1,1021.4 1641.8,1020.0 1642.4,1017.0 1643.0,1021.3 1643.6,1021.1 1644.2,1023.3 1644.9,1022.0 1645.5,1016.6 1646.1,1023.5 1646.7,1022.7 1647.3,1022.7 1648.0,1022.0 1648.6,1019.0 1649.2,1022.1 1649.8,1019.8 1650.4,1027.9 1651.1,1020.1 1651.7,1017.9 1652.3,1019.8 1652.9,1024.3 1653.5,1019.3 1654.2,1014.6 1654.8,1024.3 1655.4,1021.5 1656.0,1019.4 1656.6,1022.4 1657.3,1018.3 1657.9,1017.7 1658.5,1023.0 1659.1,1019.3 1659.7,1021.9 1660.4,1020.6 1661.0,1022.7 1661.6,1020.9 1662.2,1015.5 1662.8,1022.3 1663.5,1019.4 1664.1,1022.8 1664.7,1020.8 1665.3,1024.1 1665.9,1019.8 1666.6,1015.4 1667.2,1019.7 1667.8,1021.8 1668.4,1019.7 1669.0,1019.3 1669.7,1024.2 1670.3,1020.1 1670.9,1023.1 1671.5,1020.8 1672.1,1016.9 1672.8,1018.1 1673.4,1019.7 1674.0,1021.2 1674.6,1018.4 1675.2,1016.9 1675.9,1017.9 1676.5,1019.1 1677.1,1018.2 1677.7,1018.9 1678.3,1025.1 1679.0,1021.1 1679.6,1018.3 1680.2,1020.3 1680.8,1024.3 1681.4,1022.0 1682.1,1020.1 1682.7,1017.0 1683.3,1016.1 1683.9,1019.5 1684.5,1020.1 1685.2,1016.3 1685.8,1017.0 1686.4,1020.2 1687.0,1014.7 1687.6,1016.0 1688.3,1020.1 1688.9,1021.7 1689.5,1021.1 1690.1,1022.7 1690.7,1024.2 1691.4,1022.5 1692.0,1019.6 1692.6,1025.6 1693.2,1024.4 1693.8,1022.6 1694.5,1018.2 1695.1,1021.2 1695.7,1015.0 1696.3,1019.4 1696.9,1014.0 1697.6,1019.1 1698.2,1022.7 1698.8,1020.2 1699.4,1024.2 1700.0,1020.2 1700.7,1020.4 1701.3,1019.4 1701.9,1021.5 1702.5,1020.1 1703.1,1023.1 1703.8,1024.2 1704.4,1021.1 1705.0,1017.3 1705.6,1021.5 1706.2,1023.5 1706.9,1021.7 1707.5,1020.8 1708.1,1022.4 1708.7,1023.4 1709.3,1013.5 1710.0,1023.9 1710.6,1022.0 1711.2,1021.3 1711.8,1018.7 1712.4,1020.6 1713.1,1021.6 1713.7,1016.3 1714.3,1021.9 1714.9,1020.2 1715.5,1023.7 1716.2,1021.7 1716.8,1019.5 1717.4,1020.1 1718.0,1021.6 1718.6,1020.3 1719.3,1021.3 1719.9,1018.1 1720.5,1016.7 1721.1,1018.3 1721.7,1016.1 1722.4,1017.5 1723.0,1020.0 1723.6,1014.6 1724.2,1014.9 1724.8,1018.8 1725.5,1014.5 1726.1,1014.5 1726.7,1010.0 1727.3,1009.2 1727.9,1009.9 1728.6,1014.3 1729.2,1011.5 1729.8,1007.0 1730.4,1013.6 1731.0,1016.1 1731.7,1016.9 1732.3,1013.4 1732.9,1017.3 1733.5,1023.5 1734.1,1016.5 1734.8,1020.0 1735.4,1017.5 1736.0,1016.4 1736.6,1018.6 1737.2,1022.3 1737.9,1022.6 1738.5,1017.5 1739.1,1018.5 1739.7,1017.5 1740.3,1014.5 1741.0,1021.2 1741.6,1023.6 1742.2,1023.5 1742.8,1018.5 1743.4,1023.0 1744.1,1022.4 1744.7,1018.9 1745.3,1019.7 1745.9,1018.8 1746.5,1020.3 1747.2,1024.2 1747.8,1017.4 1748.4,1016.7 1749.0,1021.8 1749.6,1019.8 1750.3,1014.9 1750.9,1017.1 1751.5,1017.6 1752.1,1018.1 1752.7,1020.4 1753.4,1022.1 1754.0,1019.2 1754.6,1020.0 1755.2,1017.8 1755.8,1022.2 1756.5,1023.0 1757.1,1019.0 1757.7,1017.8 1758.3,1024.8 1758.9,1021.9 1759.6,1017.4 1760.2,1015.4 1760.8,1018.9 1761.4,1022.6 1762.0,1018.2 1762.7,1019.0 1763.3,1018.3 1763.9,1021.2 1764.5,1023.0 1765.1,1016.4 1765.8,1018.8 1766.4,1019.0 1767.0,1018.0 1767.6,1016.5 1768.2,1021.6 1768.9,1019.9 1769.5,1021.3 1770.1,1023.3 1770.7,1018.6 1771.3,1020.9 1772.0,1018.5 1772.6,1019.3 1773.2,1020.3 1773.8,1019.1 1774.4,1015.7 1775.1,1023.3 1775.7,1019.9 1776.3,1016.6 1776.9,1013.9 1777.5,1019.4 1778.2,1021.1 1778.8,1022.0 1779.4,1022.2 1780.0,1018.5 1780.6,1021.0 1781.3,1015.6 1781.9,1019.8 1782.5,1021.7 1783.1,1017.9 1783.7,1019.0 1784.4,1019.7 1785.0,1019.7 1785.6,1023.1 1786.2,1016.7 1786.8,1022.7 1787.5,1016.2 1788.1,1017.7 1788.7,1017.4 1789.3,1019.1 1789.9,1018.1 1790.6,1020.6 1791.2,1019.4 1791.8,1024.8 1792.4,1020.3 1793.0,1018.7 1793.7,1020.3 1794.3,1020.8 1794.9,1018.8 1795.5,1016.5 1796.1,1017.3 1796.8,1019.7 1797.4,1021.4 1798.0,1020.5 1798.6,1019.1 1799.2,1020.7 1799.9,1018.0 1800.5,1019.9 1801.1,1022.8 1801.7,1022.0 1802.3,1022.6 1803.0,1018.3 1803.6,1019.7 1804.2,1016.7 1804.8,1021.5 1805.4,1018.1 1806.1,1015.9 1806.7,1017.9 1807.3,1019.8 1807.9,1013.7 1808.5,1015.6 1809.2,1021.6 1809.8,1019.4 1810.4,1019.0 1811.0,1015.1 1811.6,1023.1 1812.3,1021.7 1812.9,1020.9 1813.5,1016.3 1814.1,1020.6 1814.7,1022.0 1815.4,1018.3 1816.0,1018.5 1816.6,1017.9 1817.2,1020.6 1817.8,1018.5 1818.5,1018.3 1819.1,1015.4 1819.7,1014.9 1820.3,1021.4 1820.9,1023.0 1821.6,1021.2 1822.2,1022.6 1822.8,1017.7 1823.4,1018.9 1824.0,1019.9 1824.7,1018.6 1825.3,1023.2 1825.9,1015.7 1826.5,1017.6 1827.1,1018.1 1827.8,1017.2 1828.4,1021.1 1829.0,1014.0 1829.6,1021.8 1830.2,1021.2 1830.9,1019.7 1831.5,1022.4 1832.1,1024.8 1832.7,1019.4 1833.3,1020.8 1834.0,1019.9 1834.6,1020.2 1835.2,1017.7 1835.8,1017.1 1836.4,1020.4 1837.1,1017.6 1837.7,1021.2 1838.3,1020.9 1838.9,1017.8 1839.5,1019.8 1840.2,1019.1 1840.8,1018.6 1841.4,1021.7 1842.0,1019.0 1842.6,1019.5 1843.3,1014.0 1843.9,1020.4 1844.5,1015.3 1845.1,1017.9 1845.7,1022.9 1846.4,1023.3 1847.0,1017.9 1847.6,1015.7 1848.2,1019.8 1848.8,1017.8 1849.5,1019.7 1850.1,1015.5 1850.7,1021.6 1851.3,1022.7 1851.9,1015.2 1852.6,1016.9 1853.2,1017.1 1853.8,1020.6 1854.4,1013.9 1855.0,1019.3 1855.7,1018.2 1856.3,1016.8 1856.9,1020.5"/>
<polygon fill="#111" stroke="#111" stroke-width="3.0" stroke-linejoin="round" points="613.8,412.8 614.7,130.5 615.0,192.2 615.7,435.3"/>
<polyline fill="none" stroke="#ff2a2a" stroke-width="2.3" stroke-linejoin="round" points="319.3,1265.0 319.9,1265.6 320.5,1266.1 321.2,1267.4 321.8,1266.5 322.4,1266.0 323.0,1267.2 323.6,1266.4 324.3,1266.2 324.9,1266.5 325.5,1267.1 326.1,1269.2 326.7,1265.8 327.4,1267.1 328.0,1266.7 328.6,1266.6 329.2,1268.2 329.8,1267.5 330.5,1267.4 331.1,1266.4 331.7,1266.1 332.3,1267.1 332.9,1266.6 333.6,1266.3 334.2,1267.4 334.8,1265.8 335.4,1266.2 336.0,1267.6 336.7,1266.8 337.3,1267.5 337.9,1266.1 338.5,1267.5 339.1,1266.2 339.8,1268.1 340.4,1267.6 341.0,1267.3 341.6,1268.3 342.2,1267.2 342.9,1266.3 343.5,1268.3 344.1,1267.2 344.7,1268.0 345.3,1267.0 346.0,1267.9 346.6,1266.1 347.2,1265.8 347.8,1265.6 348.4,1267.6 349.1,1265.1 349.7,1265.3 350.3,1265.6 350.9,1267.1 351.5,1267.3 352.2,1266.2 352.8,1267.6 353.4,1267.2 354.0,1268.0 354.6,1267.8 355.3,1266.3 355.9,1267.1 356.5,1266.8 357.1,1267.4 357.7,1267.1 358.4,1267.0 359.0,1267.6 359.6,1267.0 360.2,1267.6 360.8,1267.0 361.5,1266.8 362.1,1267.8 362.7,1267.8 363.3,1268.1 363.9,1267.5 364.6,1266.8 365.2,1267.1 365.8,1267.1 366.4,1265.4 367.0,1266.0 367.7,1268.3 368.3,1266.9 368.9,1264.4 369.5,1266.9 370.1,1267.1 370.8,1265.9 371.4,1269.0 372.0,1268.0 372.6,1267.7 373.2,1266.8 373.9,1267.4 374.5,1267.7 375.1,1267.4 375.7,1266.4 376.3,1267.2 377.0,1267.1 377.6,1267.3 378.2,1266.1 378.8,1267.2 379.4,1267.0 380.1,1267.2 380.7,1267.2 381.3,1265.7 381.9,1267.8 382.5,1267.7 383.2,1265.8 383.8,1266.9 384.4,1266.2 385.0,1266.6 385.6,1267.9 386.3,1267.5 386.9,1268.8 387.5,1267.1 388.1,1266.0 388.7,1267.1 389.4,1264.8 390.0,1268.6 390.6,1267.2 391.2,1267.4 391.8,1267.1 392.5,1266.2 393.1,1266.9 393.7,1266.3 394.3,1266.5 394.9,1267.3 395.6,1265.9 396.2,1268.4 396.8,1266.0 397.4,1267.7 398.0,1266.4 398.7,1265.8 399.3,1267.3 399.9,1267.1 400.5,1266.7 401.1,1266.8 401.8,1266.3 402.4,1267.3 403.0,1266.4 403.6,1266.9 404.2,1267.8 404.9,1265.6 405.5,1266.3 406.1,1266.2 406.7,1266.0 407.3,1265.5 408.0,1266.5 408.6,1266.8 409.2,1266.5 409.8,1265.1 410.4,1267.1 411.1,1267.0 411.7,1266.3 412.3,1265.2 412.9,1264.9 413.5,1266.5 414.2,1264.3 414.8,1259.3 415.4,1251.4 416.0,1243.7 416.6,1231.4 417.3,1222.5 417.9,1215.4 418.5,1218.7 419.1,1226.7 419.7,1239.0 420.4,1248.3 421.0,1257.5 421.6,1261.2 422.2,1263.4 422.8,1265.9 423.5,1266.2 424.1,1264.3 424.7,1266.3 425.3,1266.6 425.9,1266.7 426.6,1268.5 427.2,1266.1 427.8,1266.7 428.4,1265.2 429.0,1265.5 429.7,1266.3 430.3,1266.7 430.9,1266.7 431.5,1267.4 432.1,1267.5 432.8,1267.8 433.4,1266.8 434.0,1267.4 434.6,1266.3 435.2,1267.3 435.9,1267.4 436.5,1266.5 437.1,1264.1 437.7,1266.4 438.3,1269.3 439.0,1266.9 439.6,1266.4 440.2,1267.1 440.8,1268.0 441.4,1267.3 442.1,1266.8 442.7,1265.9 443.3,1266.8 443.9,1266.0 444.5,1267.3 445.2,1268.4 445.8,1268.0 446.4,1266.5 447.0,1266.2 447.6,1265.8 448.3,1267.4 448.9,1267.6 449.5,1267.8 450.1,1267.4 450.7,1266.0 451.4,1265.3 452.0,1268.1 452.6,1266.3 453.2,1268.8 453.8,1265.2 454.5,1266.1 455.1,1266.2 455.7,1267.3 456.3,1267.7 456.9,1266.6 457.6,1267.6 458.2,1265.9 458.8,1266.6 459.4,1266.0 460.0,1266.6 460.7,1266.5 461.3,1267.4 461.9,1270.2 462.5,1265.9 463.1,1266.9 463.8,1267.7 464.4,1267.2 465.0,1268.4 465.6,1266.2 466.2,1267.8 466.9,1266.4 467.5,1267.8 468.1,1267.3 468.7,1267.3 469.3,1266.6 470.0,1265.5 470.6,1266.1 471.2,1267.8 471.8,1266.9 472.4,1267.8 473.1,1265.9 473.7,1267.7 474.3,1268.0 474.9,1265.1 475.5,1267.4 476.2,1268.9 476.8,1266.5 477.4,1268.0 478.0,1267.2 478.6,1267.9 479.3,1266.8 479.9,1266.5 480.5,1266.8 481.1,1266.8 481.7,1266.6 482.4,1266.4 483.0,1268.2 483.6,1266.6 484.2,1266.1 484.8,1266.3 485.5,1267.6 486.1,1265.2 486.7,1267.6 487.3,1267.8 487.9,1268.3 488.6,1266.8 489.2,1266.4 489.8,1267.3 490.4,1267.3 491.0,1268.4 491.7,1267.2 492.3,1266.8 492.9,1266.0 493.5,1267.0 494.1,1267.3 494.8,1268.3 495.4,1267.3 496.0,1268.4 496.6,1268.3 497.2,1266.5 497.9,1266.2 498.5,1266.6 499.1,1267.0 499.7,1266.5 500.3,1267.8 501.0,1267.8 501.6,1268.3 502.2,1267.5 502.8,1266.8 503.4,1267.6 504.1,1266.4 504.7,1267.4 505.3,1266.5 505.9,1268.3 506.5,1264.8 507.2,1268.0 507.8,1268.0 508.4,1267.2 509.0,1267.5 509.6,1267.4 510.3,1268.4 510.9,1268.7 511.5,1267.2 512.1,1268.7 512.7,1266.7 513.4,1267.6 514.0,1267.6 514.6,1266.1 515.2,1267.5 515.8,1266.6 516.5,1268.0 517.1,1266.4 517.7,1265.7 518.3,1266.1 518.9,1267.3 519.6,1267.5 520.2,1267.6 520.8,1266.6 521.4,1268.0 522.0,1266.8 522.7,1267.1 523.3,1268.1 523.9,1267.1 524.5,1265.6 525.1,1267.9 525.8,1267.3 526.4,1266.9 527.0,1268.4 527.6,1266.7 528.2,1267.8 528.9,1267.4 529.5,1269.6 530.1,1265.6 530.7,1267.4 531.3,1267.6 532.0,1268.2 532.6,1266.9 533.2,1266.7 533.8,1268.5 534.4,1266.9 535.1,1267.5 535.7,1267.2 536.3,1267.6 536.9,1266.0 537.5,1266.8 538.2,1267.2 538.8,1267.4 539.4,1268.2 540.0,1267.7 540.6,1267.8 541.3,1267.2 541.9,1268.4 542.5,1266.7 543.1,1267.2 543.7,1265.9 544.4,1266.3 545.0,1268.0 545.6,1267.2 546.2,1265.6 546.8,1267.2 547.5,1267.0 548.1,1266.2 548.7,1267.5 549.3,1267.0 549.9,1267.2 550.6,1268.1 551.2,1266.7 551.8,1268.2 552.4,1267.0 553.0,1267.0 553.7,1268.4 554.3,1267.6 554.9,1266.9 555.5,1267.1 556.1,1267.4 556.8,1265.9 557.4,1267.8 558.0,1267.2 558.6,1266.0 559.2,1266.3 559.9,1268.0 560.5,1266.0 561.1,1269.1 561.7,1266.2 562.3,1267.4 563.0,1264.9 563.6,1267.1 564.2,1266.7 564.8,1267.6 565.4,1267.3 566.1,1266.8 566.7,1269.1 567.3,1267.8 567.9,1266.4 568.5,1267.4 569.2,1264.5 569.8,1266.5 570.4,1268.2 571.0,1266.5 571.6,1267.2 572.3,1266.0 572.9,1267.7 573.5,1267.1 574.1,1267.0 574.7,1267.8 575.4,1268.4 576.0,1267.7 576.6,1265.4 577.2,1267.3 577.8,1267.1 578.5,1265.8 579.1,1265.4 579.7,1266.5 580.3,1266.5 580.9,1266.7 581.6,1266.1 582.2,1266.9 582.8,1267.0 583.4,1266.4 584.0,1267.0 584.7,1266.1 585.3,1265.1 585.9,1266.5 586.5,1267.3 587.1,1268.9 587.8,1264.5 588.4,1265.9 589.0,1265.5 589.6,1266.5 590.2,1265.4 590.9,1266.2 591.5,1266.9 592.1,1265.3 592.7,1265.8 593.3,1267.2 594.0,1266.5 594.6,1264.1 595.2,1267.3 595.8,1264.7 596.4,1265.4 597.1,1264.6 597.7,1264.4 598.3,1264.0 598.9,1264.9 599.5,1263.4 600.2,1262.7 600.8,1263.0 601.4,1263.2 602.0,1261.0 602.6,1263.0 603.3,1261.1 603.9,1261.8 604.5,1261.7 605.1,1259.8 605.7,1258.6 606.4,1257.3 607.0,1255.7 607.6,1253.5 608.2,1250.6 608.8,1245.5 609.5,1236.3 610.1,1220.1 610.7,1191.1 611.3,1142.6 611.9,1069.4 612.6,969.1 613.2,847.9 613.8,721.9 614.4,616.9 615.2,561.0 615.7,581.3 616.3,663.2 616.9,782.0 617.5,908.5 618.1,1020.8 618.8,1108.2 619.4,1169.0 620.0,1207.0 620.6,1229.2 621.2,1241.7 621.9,1248.6 622.5,1252.2 623.1,1254.7 623.7,1256.5 624.3,1258.0 625.0,1259.2 625.6,1259.8 626.2,1261.6 626.8,1260.8 627.4,1261.6 628.1,1261.5 628.7,1264.3 629.3,1264.4 629.9,1265.0 630.5,1263.4 631.2,1265.6 631.8,1264.9 632.4,1265.5 633.0,1265.6 633.6,1264.9 634.3,1265.2 634.9,1264.1 635.5,1265.1 636.1,1265.6 636.7,1264.8 637.4,1266.1 638.0,1267.2 638.6,1265.7 639.2,1265.4 639.8,1265.5 640.5,1266.6 641.1,1268.0 641.7,1266.7 642.3,1266.6 642.9,1265.5 643.6,1267.0 644.2,1267.3 644.8,1266.4 645.4,1266.8 646.0,1266.2 646.7,1267.5 647.3,1268.1 647.9,1267.3 648.5,1267.4 649.1,1267.0 649.8,1266.5 650.4,1266.4 651.0,1266.7 651.6,1267.2 652.2,1267.1 652.9,1268.1 653.5,1267.8 654.1,1268.5 654.7,1267.9 655.3,1267.0 656.0,1267.3 656.6,1265.8 657.2,1268.8 657.8,1266.8 658.4,1266.9 659.1,1269.0 659.7,1266.4 660.3,1266.8 660.9,1267.3 661.5,1266.9 662.2,1267.5 662.8,1267.6 663.4,1268.0 664.0,1267.3 664.6,1268.1 665.3,1267.1 665.9,1268.0 666.5,1268.5 667.1,1265.9 667.7,1267.3 668.4,1267.6 669.0,1265.8 669.6,1264.7 670.2,1267.7 670.8,1266.8 671.5,1268.0 672.1,1267.1 672.7,1266.9 673.3,1266.2 673.9,1266.1 674.6,1264.6 675.2,1264.1 675.8,1264.5 676.4,1262.7 677.0,1262.7 677.7,1261.8 678.3,1261.5 678.9,1261.4 679.5,1263.7 680.1,1263.0 680.8,1264.9 681.4,1264.0 682.0,1266.3 682.6,1266.9 683.2,1266.4 683.9,1265.8 684.5,1267.3 685.1,1267.6 685.7,1267.1 686.3,1267.0 687.0,1268.5 687.6,1267.6 688.2,1267.3 688.8,1268.5 689.4,1267.7 690.1,1267.1 690.7,1268.5 691.3,1267.4 691.9,1268.6 692.5,1267.1 693.2,1268.0 693.8,1268.9 694.4,1268.2 695.0,1268.2 695.6,1268.2 696.3,1268.5 696.9,1267.8 697.5,1268.2 698.1,1267.6 698.7,1269.5 699.4,1267.0 700.0,1268.5 700.6,1266.9 701.2,1268.3 701.8,1269.0 702.5,1266.8 703.1,1269.4 703.7,1267.0 704.3,1267.1 704.9,1268.1 705.6,1266.9 706.2,1268.7 706.8,1268.3 707.4,1265.4 708.0,1266.6 708.7,1267.2 709.3,1268.2 709.9,1266.9 710.5,1267.2 711.1,1268.4 711.8,1267.0 712.4,1268.1 713.0,1266.7 713.6,1268.8 714.2,1269.1 714.9,1266.9 715.5,1265.8 716.1,1266.4 716.7,1268.7 717.3,1267.4 718.0,1268.8 718.6,1266.7 719.2,1267.1 719.8,1267.8 720.4,1268.8 721.1,1267.7 721.7,1267.0 722.3,1268.2 722.9,1268.0 723.5,1268.3 724.2,1267.7 724.8,1267.4 725.4,1267.9 726.0,1265.7 726.6,1268.1 727.3,1269.0 727.9,1268.4 728.5,1267.1 729.1,1266.6 729.7,1269.1 730.4,1267.5 731.0,1267.7 731.6,1268.1 732.2,1267.4 732.8,1268.0 733.5,1269.3 734.1,1267.5 734.7,1269.6 735.3,1268.3 735.9,1268.2 736.6,1268.8 737.2,1268.8 737.8,1268.9 738.4,1268.4 739.0,1267.4 739.7,1269.4 740.3,1267.8 740.9,1267.2 741.5,1268.8 742.1,1268.5 742.8,1267.9 743.4,1268.0 744.0,1268.5 744.6,1269.7 745.2,1267.9 745.9,1266.9 746.5,1267.5 747.1,1268.4 747.7,1267.8 748.3,1267.4 749.0,1268.6 749.6,1268.6 750.2,1267.8 750.8,1268.2 751.4,1267.4 752.1,1267.4 752.7,1267.7 753.3,1266.8 753.9,1268.3 754.5,1267.9 755.2,1267.5 755.8,1268.1 756.4,1268.1 757.0,1267.3 757.6,1267.5 758.3,1267.3 758.9,1269.2 759.5,1266.5 760.1,1267.9 760.7,1268.7 761.4,1267.0 762.0,1267.1 762.6,1267.1 763.2,1266.4 763.8,1269.0 764.5,1267.7 765.1,1267.0 765.7,1267.4 766.3,1268.1 766.9,1267.6 767.6,1267.1 768.2,1268.4 768.8,1267.1 769.4,1267.6 770.0,1268.1 770.7,1267.3 771.3,1268.0 771.9,1267.3 772.5,1270.3 773.1,1267.5 773.8,1268.5 774.4,1267.1 775.0,1266.9 775.6,1267.8 776.2,1267.6 776.9,1267.6 777.5,1267.9 778.1,1268.7 778.7,1269.6 779.3,1269.7 780.0,1268.0 780.6,1269.5 781.2,1269.4 781.8,1267.3 782.4,1267.5 783.1,1267.8 783.7,1269.6 784.3,1267.8 784.9,1267.7 785.5,1269.1 786.2,1267.7 786.8,1267.7 787.4,1268.4 788.0,1268.0 788.6,1265.7 789.3,1266.8 789.9,1268.5 790.5,1266.6 791.1,1269.0 791.7,1267.8 792.4,1268.1 793.0,1268.1 793.6,1266.3 794.2,1267.2 794.8,1266.9 795.5,1268.1 796.1,1269.2 796.7,1267.6 797.3,1267.9 797.9,1266.1 798.6,1267.5 799.2,1267.6 799.8,1267.7 800.4,1268.3 801.0,1269.1 801.7,1267.8 802.3,1268.1 802.9,1266.4 803.5,1268.3 804.1,1267.8 804.8,1266.2 805.4,1268.0 806.0,1267.1 806.6,1268.6 807.2,1268.0 807.9,1267.6 808.5,1269.1 809.1,1267.3 809.7,1267.1 810.3,1267.2 811.0,1267.0 811.6,1265.6 812.2,1265.7 812.8,1263.5 813.4,1259.2 814.1,1253.2 814.7,1248.9 815.3,1241.4 815.9,1234.2 816.5,1230.1 817.2,1231.2 817.8,1234.7 818.4,1243.0 819.0,1248.9 819.6,1254.8 820.3,1260.5 820.9,1263.4 821.5,1266.0 822.1,1268.2 822.7,1267.5 823.4,1268.3 824.0,1269.4 824.6,1269.2 825.2,1267.8 825.8,1267.1 826.5,1269.7 827.1,1266.9 827.7,1266.2 828.3,1266.1 828.9,1269.0 829.6,1266.6 830.2,1267.7 830.8,1267.9 831.4,1269.2 832.0,1266.8 832.7,1268.1 833.3,1268.3 833.9,1269.3 834.5,1267.8 835.1,1268.3 835.8,1267.8 836.4,1269.0 837.0,1268.9 837.6,1267.7 838.2,1268.6 838.9,1266.8 839.5,1268.2 840.1,1267.3 840.7,1267.7 841.3,1269.0 842.0,1270.0 842.6,1268.3 843.2,1268.0 843.8,1267.8 844.4,1268.8 845.1,1268.0 845.7,1269.0 846.3,1269.5 846.9,1268.7 847.5,1267.8 848.2,1268.8 848.8,1267.5 849.4,1266.6 850.0,1269.2 850.6,1269.9 851.3,1269.4 851.9,1267.9 852.5,1265.1 853.1,1267.5 853.7,1268.7 854.4,1267.8 855.0,1269.4 855.6,1267.4 856.2,1268.6 856.8,1268.4 857.5,1268.4 858.1,1266.9 858.7,1268.1 859.3,1268.4 859.9,1267.8 860.6,1267.0 861.2,1267.7 861.8,1267.3 862.4,1268.5 863.0,1269.1 863.7,1268.5 864.3,1268.5 864.9,1268.0 865.5,1268.4 866.1,1266.4 866.8,1268.3 867.4,1269.0 868.0,1267.7 868.6,1268.8 869.2,1266.8 869.9,1268.2 870.5,1268.0 871.1,1268.6 871.7,1268.3 872.3,1270.2 873.0,1265.3 873.6,1266.9 874.2,1267.6 874.8,1268.3 875.4,1267.6 876.1,1267.6 876.7,1266.8 877.3,1267.0 877.9,1267.4 878.5,1269.6 879.2,1267.5 879.8,1270.7 880.4,1269.2 881.0,1267.9 881.6,1268.9 882.3,1269.1 882.9,1267.1 883.5,1266.7 884.1,1269.5 884.7,1267.3 885.4,1269.0 886.0,1268.8 886.6,1266.7 887.2,1268.8 887.8,1268.7 888.5,1269.4 889.1,1268.2 889.7,1268.6 890.3,1268.5 890.9,1268.0 891.6,1269.7 892.2,1269.1 892.8,1269.6 893.4,1268.5 894.0,1269.2 894.7,1267.3 895.3,1267.6 895.9,1269.1 896.5,1268.0 897.1,1267.8 897.8,1268.3 898.4,1266.7 899.0,1268.3 899.6,1268.6 900.2,1267.9 900.9,1267.1 901.5,1269.7 902.1,1268.5 902.7,1267.2 903.3,1267.6 904.0,1266.6 904.6,1266.5 905.2,1266.3 905.8,1267.3 906.4,1268.4 907.1,1268.7 907.7,1267.9 908.3,1268.8 908.9,1268.3 909.5,1266.6 910.2,1266.6 910.8,1267.3 911.4,1267.1 912.0,1266.8 912.6,1263.6 913.3,1262.1 913.9,1264.5 914.5,1261.3 915.1,1261.5 915.7,1260.0 916.4,1258.5 917.0,1261.2 917.6,1260.4 918.2,1260.7 918.8,1257.9 919.5,1252.1 920.1,1245.5 920.7,1235.9 921.3,1221.7 921.9,1209.9 922.6,1201.8 923.2,1198.0 923.8,1205.3 924.4,1217.6 925.0,1231.8 925.7,1243.0 926.3,1252.0 926.9,1259.7 927.5,1262.5 928.1,1265.6 928.8,1266.7 929.4,1266.8 930.0,1268.0 930.6,1268.5 931.2,1266.4 931.9,1268.2 932.5,1267.6 933.1,1267.6 933.7,1268.0 934.3,1269.0 935.0,1267.9 935.6,1267.7 936.2,1266.9 936.8,1267.9 937.4,1268.1 938.1,1267.3 938.7,1267.9 939.3,1268.6 939.9,1269.5 940.5,1268.0 941.2,1270.0 941.8,1269.2 942.4,1269.0 943.0,1268.8 943.6,1268.4 944.3,1267.7 944.9,1268.3 945.5,1268.4 946.1,1268.5 946.7,1269.7 947.4,1270.2 948.0,1268.8 948.6,1269.3 949.2,1267.8 949.8,1266.6 950.5,1268.3 951.1,1268.6 951.7,1269.7 952.3,1270.6 952.9,1268.7 953.6,1269.6 954.2,1269.4 954.8,1268.6 955.4,1269.2 956.0,1268.8 956.7,1269.8 957.3,1267.5 957.9,1266.4 958.5,1268.6 959.1,1269.3 959.8,1269.4 960.4,1268.0 961.0,1269.0 961.6,1267.9 962.2,1269.1 962.9,1267.8 963.5,1267.5 964.1,1269.3 964.7,1267.4 965.3,1267.2 966.0,1269.2 966.6,1268.6 967.2,1266.4 967.8,1269.6 968.4,1267.4 969.1,1268.1 969.7,1268.4 970.3,1270.3 970.9,1268.5 971.5,1269.3 972.2,1268.4 972.8,1269.0 973.4,1267.3 974.0,1268.5 974.6,1268.0 975.3,1267.6 975.9,1268.8 976.5,1269.5 977.1,1269.0 977.7,1268.2 978.4,1269.2 979.0,1267.5 979.6,1268.8 980.2,1269.0 980.8,1268.5 981.5,1268.3 982.1,1268.6 982.7,1268.0 983.3,1268.3 983.9,1269.2 984.6,1266.8 985.2,1269.7 985.8,1269.0 986.4,1268.7 987.0,1267.6 987.7,1268.2 988.3,1268.0 988.9,1269.2 989.5,1269.1 990.1,1269.6 990.8,1268.6 991.4,1266.7 992.0,1267.7 992.6,1268.2 993.2,1268.8 993.9,1267.2 994.5,1268.4 995.1,1268.6 995.7,1268.0 996.3,1268.4 997.0,1270.6 997.6,1268.5 998.2,1270.3 998.8,1268.8 999.4,1267.9 1000.1,1269.0 1000.7,1268.2 1001.3,1268.5 1001.9,1266.5 1002.5,1268.8 1003.2,1268.0 1003.8,1269.5 1004.4,1268.6 1005.0,1268.2 1005.6,1267.6 1006.3,1268.5 1006.9,1268.2 1007.5,1267.8 1008.1,1270.2 1008.7,1268.4 1009.4,1269.3 1010.0,1269.8 1010.6,1268.9 1011.2,1269.1 1011.8,1269.0 1012.5,1269.4 1013.1,1269.0 1013.7,1268.9 1014.3,1268.6 1014.9,1268.1 1015.6,1268.1 1016.2,1267.9 1016.8,1268.7 1017.4,1269.6 1018.0,1267.6 1018.7,1267.9 1019.3,1267.6 1019.9,1268.4 1020.5,1269.4 1021.1,1268.1 1021.8,1268.7 1022.4,1266.3 1023.0,1268.3 1023.6,1268.8 1024.2,1267.8 1024.9,1266.9 1025.5,1268.7 1026.1,1268.2 1026.7,1269.9 1027.3,1267.7 1028.0,1268.1 1028.6,1267.8 1029.2,1268.2 1029.8,1266.4 1030.4,1269.1 1031.1,1268.4 1031.7,1267.4 1032.3,1266.9 1032.9,1267.1 1033.5,1265.7 1034.2,1262.7 1034.8,1258.9 1035.4,1253.3 1036.0,1244.1 1036.6,1233.7 1037.3,1222.8 1037.9,1213.7 1038.5,1208.5 1039.1,1211.1 1039.7,1220.2 1040.4,1231.2 1041.0,1241.2 1041.6,1247.3 1042.2,1256.1 1042.8,1262.4 1043.5,1266.3 1044.1,1267.4 1044.7,1266.9 1045.3,1267.2 1045.9,1267.4 1046.6,1269.5 1047.2,1268.2 1047.8,1267.3 1048.4,1269.0 1049.0,1269.0 1049.7,1266.5 1050.3,1267.8 1050.9,1269.2 1051.5,1269.2 1052.1,1267.3 1052.8,1268.4 1053.4,1269.2 1054.0,1268.8 1054.6,1267.5 1055.2,1268.3 1055.9,1269.1 1056.5,1269.0 1057.1,1267.7 1057.7,1270.6 1058.3,1268.7 1059.0,1267.2 1059.6,1268.3 1060.2,1266.1 1060.8,1268.0 1061.4,1268.6 1062.1,1270.7 1062.7,1268.8 1063.3,1268.9 1063.9,1269.3 1064.5,1268.8 1065.2,1268.1 1065.8,1269.8 1066.4,1269.1 1067.0,1270.0 1067.6,1269.6 1068.3,1267.8 1068.9,1268.3 1069.5,1268.3 1070.1,1268.3 1070.7,1269.1 1071.4,1268.5 1072.0,1268.0 1072.6,1270.0 1073.2,1269.9 1073.8,1268.7 1074.5,1267.8 1075.1,1268.1 1075.7,1268.0 1076.3,1267.9 1076.9,1267.8 1077.6,1268.9 1078.2,1269.0 1078.8,1269.1 1079.4,1267.9 1080.0,1269.0 1080.7,1270.5 1081.3,1268.9 1081.9,1268.4 1082.5,1271.1 1083.1,1269.0 1083.8,1268.2 1084.4,1269.5 1085.0,1268.1 1085.6,1268.4 1086.2,1269.6 1086.9,1268.2 1087.5,1267.4 1088.1,1269.4 1088.7,1269.5 1089.3,1267.5 1090.0,1268.4 1090.6,1269.7 1091.2,1269.0 1091.8,1269.5 1092.4,1268.6 1093.1,1268.2 1093.7,1268.3 1094.3,1268.5 1094.9,1268.9 1095.5,1266.4 1096.2,1267.1 1096.8,1268.8 1097.4,1269.4 1098.0,1268.2 1098.6,1268.8 1099.3,1267.8 1099.9,1267.6 1100.5,1268.9 1101.1,1268.7 1101.7,1268.3 1102.4,1267.6 1103.0,1268.8 1103.6,1268.7 1104.2,1268.6 1104.8,1268.7 1105.5,1268.5 1106.1,1269.2 1106.7,1269.1 1107.3,1270.4 1107.9,1270.0 1108.6,1268.7 1109.2,1267.7 1109.8,1269.3 1110.4,1268.3 1111.0,1270.1 1111.7,1267.5 1112.3,1268.4 1112.9,1270.1 1113.5,1268.8 1114.1,1269.4 1114.8,1269.4 1115.4,1268.4 1116.0,1269.5 1116.6,1268.0 1117.2,1268.5 1117.9,1270.6 1118.5,1268.6 1119.1,1269.1 1119.7,1267.8 1120.3,1269.9 1121.0,1268.0 1121.6,1268.1 1122.2,1268.2 1122.8,1267.9 1123.4,1267.5 1124.1,1268.5 1124.7,1268.3 1125.3,1268.7 1125.9,1267.9 1126.5,1268.0 1127.2,1268.5 1127.8,1268.8 1128.4,1268.0 1129.0,1268.7 1129.6,1268.6 1130.3,1269.7 1130.9,1269.3 1131.5,1269.2 1132.1,1269.6 1132.7,1268.2 1133.4,1269.9 1134.0,1268.9 1134.6,1268.3 1135.2,1269.1 1135.8,1267.8 1136.5,1270.3 1137.1,1269.0 1137.7,1267.4 1138.3,1267.8 1138.9,1268.3 1139.6,1268.2 1140.2,1269.1 1140.8,1269.5 1141.4,1269.6 1142.0,1269.2 1142.7,1267.9 1143.3,1269.7 1143.9,1269.8 1144.5,1267.0 1145.1,1268.2 1145.8,1268.4 1146.4,1268.0 1147.0,1269.5 1147.6,1269.0 1148.2,1268.7 1148.9,1267.5 1149.5,1266.8 1150.1,1267.7 1150.7,1267.8 1151.3,1267.7 1152.0,1266.6 1152.6,1267.0 1153.2,1267.9 1153.8,1268.5 1154.4,1267.5 1155.1,1267.5 1155.7,1267.0 1156.3,1266.0 1156.9,1265.3 1157.5,1260.8 1158.2,1257.6 1158.8,1251.1 1159.4,1247.4 1160.0,1241.4 1160.6,1237.5 1161.3,1235.7 1161.9,1237.4 1162.5,1240.2 1163.1,1246.0 1163.7,1250.8 1164.4,1250.1 1165.0,1256.0 1165.6,1254.8 1166.2,1256.4 1166.8,1255.4 1167.5,1256.1 1168.1,1256.9 1168.7,1255.7 1169.3,1256.5 1169.9,1252.7 1170.6,1249.0 1171.2,1241.7 1171.8,1233.8 1172.4,1225.7 1173.0,1220.3 1173.7,1219.7 1174.3,1221.5 1174.9,1226.4 1175.5,1232.9 1176.1,1236.3 1176.8,1239.3 1177.4,1238.4 1178.0,1236.5 1178.6,1237.5 1179.2,1241.4 1179.9,1245.4 1180.5,1249.6 1181.1,1255.7 1181.7,1259.6 1182.3,1262.1 1183.0,1265.0 1183.6,1267.9 1184.2,1266.2 1184.8,1268.5 1185.4,1267.8 1186.1,1268.6 1186.7,1268.5 1187.3,1268.4 1187.9,1268.1 1188.5,1268.3 1189.2,1268.9 1189.8,1268.7 1190.4,1267.0 1191.0,1268.7 1191.6,1269.4 1192.3,1269.0 1192.9,1268.4 1193.5,1266.6 1194.1,1268.7 1194.7,1268.7 1195.4,1269.3 1196.0,1267.0 1196.6,1267.5 1197.2,1267.0 1197.8,1266.7 1198.5,1264.5 1199.1,1263.8 1199.7,1260.7 1200.3,1255.6 1200.9,1249.8 1201.6,1238.0 1202.2,1226.8 1202.8,1217.0 1203.4,1207.0 1204.0,1205.2 1204.7,1206.5 1205.3,1210.7 1205.9,1216.2 1206.5,1221.7 1207.1,1224.7 1207.8,1227.9 1208.4,1231.2 1209.0,1237.3 1209.6,1242.0 1210.2,1248.0 1210.9,1253.5 1211.5,1257.1 1212.1,1261.4 1212.7,1264.0 1213.3,1264.6 1214.0,1265.3 1214.6,1268.6 1215.2,1267.7 1215.8,1268.0 1216.4,1267.7 1217.1,1269.7 1217.7,1268.2 1218.3,1266.9 1218.9,1269.0 1219.5,1267.7 1220.2,1269.0 1220.8,1268.5 1221.4,1269.8 1222.0,1269.1 1222.6,1268.4 1223.3,1270.0 1223.9,1271.1 1224.5,1268.3 1225.1,1269.7 1225.7,1269.1 1226.4,1269.2 1227.0,1267.7 1227.6,1268.0 1228.2,1270.1 1228.8,1269.0 1229.5,1268.4 1230.1,1270.5 1230.7,1270.0 1231.3,1269.5 1231.9,1268.0 1232.6,1268.9 1233.2,1270.2 1233.8,1267.1 1234.4,1267.5 1235.0,1268.2 1235.7,1269.8 1236.3,1269.1 1236.9,1269.4 1237.5,1269.1 1238.1,1269.0 1238.8,1270.0 1239.4,1272.2 1240.0,1269.4 1240.6,1270.1 1241.2,1268.6 1241.9,1270.4 1242.5,1269.1 1243.1,1269.1 1243.7,1268.6 1244.3,1268.3 1245.0,1268.5 1245.6,1268.1 1246.2,1267.9 1246.8,1270.6 1247.4,1269.4 1248.1,1269.9 1248.7,1269.5 1249.3,1267.7 1249.9,1269.0 1250.5,1268.2 1251.2,1268.3 1251.8,1268.9 1252.4,1269.2 1253.0,1269.1 1253.6,1269.1 1254.3,1268.8 1254.9,1269.1 1255.5,1270.2 1256.1,1271.0 1256.7,1270.0 1257.4,1268.8 1258.0,1269.4 1258.6,1269.9 1259.2,1269.9 1259.8,1270.1 1260.5,1270.2 1261.1,1269.4 1261.7,1268.8 1262.3,1267.7 1262.9,1270.0 1263.6,1269.6 1264.2,1268.3 1264.8,1269.1 1265.4,1268.7 1266.0,1268.7 1266.7,1270.6 1267.3,1268.7 1267.9,1271.2 1268.5,1269.0 1269.1,1268.4 1269.8,1269.2 1270.4,1271.2 1271.0,1268.9 1271.6,1269.5 1272.2,1267.1 1272.9,1269.6 1273.5,1267.9 1274.1,1269.0 1274.7,1270.3 1275.3,1268.9 1276.0,1269.7 1276.6,1268.9 1277.2,1268.8 1277.8,1269.3 1278.4,1270.1 1279.1,1269.2 1279.7,1269.1 1280.3,1268.2 1280.9,1267.6 1281.5,1269.2 1282.2,1268.9 1282.8,1269.3 1283.4,1270.0 1284.0,1269.8 1284.6,1268.3 1285.3,1269.3 1285.9,1269.4 1286.5,1268.9 1287.1,1267.1 1287.7,1268.4 1288.4,1269.0 1289.0,1269.8 1289.6,1268.8 1290.2,1267.9 1290.8,1270.3 1291.5,1269.1 1292.1,1268.7 1292.7,1269.6 1293.3,1269.7 1293.9,1269.0 1294.6,1268.6 1295.2,1268.6 1295.8,1269.8 1296.4,1269.0 1297.0,1269.6 1297.7,1267.4 1298.3,1268.7 1298.9,1268.8 1299.5,1268.7 1300.1,1267.4 1300.8,1268.7 1301.4,1270.5 1302.0,1269.4 1302.6,1268.7 1303.2,1268.5 1303.9,1267.9 1304.5,1269.3 1305.1,1268.4 1305.7,1268.8 1306.3,1269.9 1307.0,1270.0 1307.6,1269.7 1308.2,1267.6 1308.8,1268.6 1309.4,1270.2 1310.1,1268.1 1310.7,1270.3 1311.3,1269.1 1311.9,1270.0 1312.5,1268.8 1313.2,1268.1 1313.8,1268.2 1314.4,1270.4 1315.0,1268.9 1315.6,1268.0 1316.3,1269.9 1316.9,1267.8 1317.5,1269.0 1318.1,1269.5 1318.7,1269.4 1319.4,1269.5 1320.0,1269.1 1320.6,1266.9 1321.2,1269.4 1321.8,1269.1 1322.5,1269.0 1323.1,1269.6 1323.7,1269.8 1324.3,1269.4 1324.9,1270.5 1325.6,1271.1 1326.2,1269.4 1326.8,1268.9 1327.4,1268.0 1328.0,1269.7 1328.7,1267.6 1329.3,1270.7 1329.9,1270.1 1330.5,1268.7 1331.1,1269.8 1331.8,1268.4 1332.4,1268.2 1333.0,1269.9 1333.6,1268.3 1334.2,1269.4 1334.9,1269.1 1335.5,1270.6 1336.1,1269.5 1336.7,1270.6 1337.3,1270.0 1338.0,1268.5 1338.6,1268.1 1339.2,1267.3 1339.8,1269.2 1340.4,1266.7 1341.1,1268.5 1341.7,1267.0 1342.3,1268.6 1342.9,1269.8 1343.5,1268.4 1344.2,1268.7 1344.8,1268.8 1345.4,1269.4 1346.0,1267.9 1346.6,1269.3 1347.3,1269.1 1347.9,1268.3 1348.5,1268.3 1349.1,1270.3 1349.7,1269.9 1350.4,1269.6 1351.0,1268.5 1351.6,1268.9 1352.2,1268.0 1352.8,1267.6 1353.5,1268.8 1354.1,1268.7 1354.7,1268.1 1355.3,1268.1 1355.9,1269.5 1356.6,1268.8 1357.2,1267.8 1357.8,1271.1 1358.4,1267.7 1359.0,1269.4 1359.7,1268.3 1360.3,1269.8 1360.9,1269.3 1361.5,1270.1 1362.1,1269.2 1362.8,1268.5 1363.4,1270.5 1364.0,1269.2 1364.6,1269.0 1365.2,1269.1 1365.9,1268.6 1366.5,1269.6 1367.1,1270.7 1367.7,1270.6 1368.3,1269.5 1369.0,1269.8 1369.6,1269.9 1370.2,1268.7 1370.8,1270.6 1371.4,1269.5 1372.1,1267.6 1372.7,1269.8 1373.3,1268.4 1373.9,1269.5 1374.5,1269.9 1375.2,1269.0 1375.8,1269.5 1376.4,1270.5 1377.0,1268.0 1377.6,1267.6 1378.3,1269.2 1378.9,1269.0 1379.5,1271.1 1380.1,1270.2 1380.7,1269.7 1381.4,1269.2 1382.0,1267.5 1382.6,1268.1 1383.2,1269.0 1383.8,1269.4 1384.5,1268.9 1385.1,1269.4 1385.7,1269.9 1386.3,1268.6 1386.9,1268.9 1387.6,1268.4 1388.2,1270.4 1388.8,1267.5 1389.4,1269.8 1390.0,1270.0 1390.7,1267.4 1391.3,1268.8 1391.9,1270.3 1392.5,1268.5 1393.1,1268.8 1393.8,1269.2 1394.4,1270.5 1395.0,1269.8 1395.6,1268.7 1396.2,1268.0 1396.9,1267.9 1397.5,1269.6 1398.1,1267.3 1398.7,1268.8 1399.3,1269.8 1400.0,1268.2 1400.6,1269.0 1401.2,1269.2 1401.8,1270.0 1402.4,1268.1 1403.1,1269.4 1403.7,1269.2 1404.3,1269.4 1404.9,1267.9 1405.5,1269.7 1406.2,1268.5 1406.8,1269.2 1407.4,1268.5 1408.0,1271.0 1408.6,1269.4 1409.3,1271.2 1409.9,1268.7 1410.5,1269.1 1411.1,1270.6 1411.7,1269.0 1412.4,1269.7 1413.0,1270.4 1413.6,1269.0 1414.2,1268.7 1414.8,1269.1 1415.5,1270.2 1416.1,1269.7 1416.7,1270.5 1417.3,1269.1 1417.9,1268.9 1418.6,1268.3 1419.2,1269.1 1419.8,1268.8 1420.4,1269.2 1421.0,1268.5 1421.7,1268.7 1422.3,1269.1 1422.9,1270.2 1423.5,1269.0 1424.1,1268.8 1424.8,1270.3 1425.4,1270.6 1426.0,1269.1 1426.6,1269.1 1427.2,1267.7 1427.9,1267.9 1428.5,1269.3 1429.1,1270.6 1429.7,1271.0 1430.3,1270.1 1431.0,1268.9 1431.6,1269.8 1432.2,1268.0 1432.8,1269.3 1433.4,1268.3 1434.1,1269.4 1434.7,1270.7 1435.3,1271.3 1435.9,1269.6 1436.5,1269.7 1437.2,1267.9 1437.8,1268.8 1438.4,1270.7 1439.0,1270.4 1439.6,1270.1 1440.3,1269.8 1440.9,1270.8 1441.5,1269.1 1442.1,1269.2 1442.7,1271.9 1443.4,1268.6 1444.0,1269.7 1444.6,1269.0 1445.2,1270.6 1445.8,1269.0 1446.5,1268.8 1447.1,1268.7 1447.7,1269.5 1448.3,1267.6 1448.9,1266.7 1449.6,1267.4 1450.2,1266.4 1450.8,1266.5 1451.4,1264.8 1452.0,1263.8 1452.7,1263.8 1453.3,1263.4 1453.9,1263.8 1454.5,1263.2 1455.1,1262.2 1455.8,1264.5 1456.4,1265.4 1457.0,1266.2 1457.6,1267.5 1458.2,1267.4 1458.9,1269.2 1459.5,1268.3 1460.1,1270.1 1460.7,1268.1 1461.3,1267.1 1462.0,1268.4 1462.6,1271.9 1463.2,1269.1 1463.8,1269.3 1464.4,1269.6 1465.1,1269.0 1465.7,1269.6 1466.3,1269.5 1466.9,1271.2 1467.5,1270.4 1468.2,1269.6 1468.8,1270.0 1469.4,1269.9 1470.0,1268.3 1470.6,1270.2 1471.3,1268.6 1471.9,1269.7 1472.5,1268.8 1473.1,1268.9 1473.7,1268.5 1474.4,1266.4 1475.0,1263.5 1475.6,1261.3 1476.2,1259.3 1476.8,1255.6 1477.5,1253.0 1478.1,1251.4 1478.7,1250.5 1479.3,1251.9 1479.9,1252.4 1480.6,1254.6 1481.2,1255.4 1481.8,1255.8 1482.4,1259.3 1483.0,1260.5 1483.7,1260.4 1484.3,1262.9 1484.9,1263.8 1485.5,1263.8 1486.1,1267.0 1486.8,1265.2 1487.4,1267.7 1488.0,1269.0 1488.6,1267.8 1489.2,1270.5 1489.9,1268.7 1490.5,1270.4 1491.1,1269.2 1491.7,1270.0 1492.3,1269.4 1493.0,1271.6 1493.6,1269.9 1494.2,1270.4 1494.8,1270.2 1495.4,1269.7 1496.1,1269.3 1496.7,1269.9 1497.3,1270.4 1497.9,1270.4 1498.5,1270.0 1499.2,1269.4 1499.8,1270.2 1500.4,1268.7 1501.0,1269.6 1501.6,1267.7 1502.3,1269.0 1502.9,1269.5 1503.5,1268.3 1504.1,1268.6 1504.7,1270.5 1505.4,1270.1 1506.0,1270.6 1506.6,1270.7 1507.2,1270.2 1507.8,1270.4 1508.5,1269.9 1509.1,1270.8 1509.7,1268.3 1510.3,1269.5 1510.9,1270.6 1511.6,1270.4 1512.2,1269.7 1512.8,1269.4 1513.4,1270.4 1514.0,1269.5 1514.7,1268.7 1515.3,1270.7 1515.9,1269.3 1516.5,1269.8 1517.1,1268.2 1517.8,1267.4 1518.4,1270.1 1519.0,1271.2 1519.6,1267.6 1520.2,1269.2 1520.9,1270.2 1521.5,1269.9 1522.1,1269.7 1522.7,1269.7 1523.3,1268.8 1524.0,1270.7 1524.6,1270.6 1525.2,1270.0 1525.8,1267.6 1526.4,1271.2 1527.1,1269.7 1527.7,1270.2 1528.3,1271.4 1528.9,1270.9 1529.5,1269.6 1530.2,1270.7 1530.8,1270.3 1531.4,1269.2 1532.0,1269.8 1532.6,1268.1 1533.3,1268.3 1533.9,1269.9 1534.5,1271.0 1535.1,1268.8 1535.7,1270.8 1536.4,1269.9 1537.0,1271.4 1537.6,1269.4 1538.2,1272.4 1538.8,1270.1 1539.5,1269.5 1540.1,1270.0 1540.7,1268.1 1541.3,1270.1 1541.9,1269.5 1542.6,1270.2 1543.2,1269.5 1543.8,1267.3 1544.4,1267.4 1545.0,1269.2 1545.7,1268.6 1546.3,1270.5 1546.9,1268.8 1547.5,1270.1 1548.1,1269.6 1548.8,1271.1 1549.4,1269.8 1550.0,1269.9 1550.6,1268.8 1551.2,1270.1 1551.9,1270.4 1552.5,1269.6 1553.1,1270.4 1553.7,1268.8 1554.3,1269.6 1555.0,1270.1 1555.6,1269.5 1556.2,1270.9 1556.8,1270.3 1557.4,1269.2 1558.1,1268.9 1558.7,1269.7 1559.3,1269.1 1559.9,1269.4 1560.5,1268.7 1561.2,1270.5 1561.8,1269.9 1562.4,1270.0 1563.0,1270.5 1563.6,1267.7 1564.3,1269.8 1564.9,1269.5 1565.5,1270.4 1566.1,1270.2 1566.7,1270.2 1567.4,1270.9 1568.0,1268.0 1568.6,1268.8 1569.2,1270.8 1569.8,1271.0 1570.5,1268.9 1571.1,1270.7 1571.7,1270.4 1572.3,1268.3 1572.9,1268.9 1573.6,1269.6 1574.2,1268.9 1574.8,1270.0 1575.4,1268.1 1576.0,1267.0 1576.7,1263.7 1577.3,1261.0 1577.9,1259.0 1578.5,1258.6 1579.1,1257.3 1579.8,1254.5 1580.4,1255.9 1581.0,1255.6 1581.6,1261.2 1582.2,1261.0 1582.9,1264.8 1583.5,1266.4 1584.1,1264.9 1584.7,1265.8 1585.3,1267.3 1586.0,1267.9 1586.6,1266.1 1587.2,1265.4 1587.8,1266.5 1588.4,1267.1 1589.1,1264.8 1589.7,1264.9 1590.3,1266.4 1590.9,1265.3 1591.5,1264.2 1592.2,1265.0 1592.8,1265.5 1593.4,1266.2 1594.0,1265.8 1594.6,1265.7 1595.3,1264.4 1595.9,1266.7 1596.5,1266.9 1597.1,1266.8 1597.7,1266.9 1598.4,1267.2 1599.0,1268.2 1599.6,1267.3 1600.2,1266.7 1600.8,1268.9 1601.5,1267.9 1602.1,1268.2 1602.7,1269.0 1603.3,1268.6 1603.9,1268.9 1604.6,1268.1 1605.2,1270.4 1605.8,1268.1 1606.4,1270.6 1607.0,1268.4 1607.7,1268.9 1608.3,1269.3 1608.9,1270.5 1609.5,1269.9 1610.1,1269.3 1610.8,1268.7 1611.4,1270.7 1612.0,1269.9 1612.6,1270.2 1613.2,1269.7 1613.9,1269.4 1614.5,1270.5 1615.1,1270.1 1615.7,1270.9 1616.3,1270.1 1617.0,1268.6 1617.6,1270.6 1618.2,1269.9 1618.8,1269.7 1619.4,1267.1 1620.1,1269.1 1620.7,1270.1 1621.3,1269.3 1621.9,1270.1 1622.5,1270.4 1623.2,1269.9 1623.8,1269.1 1624.4,1270.3 1625.0,1270.2 1625.6,1269.7 1626.3,1268.2 1626.9,1268.8 1627.5,1270.6 1628.1,1269.7 1628.7,1268.3 1629.4,1269.8 1630.0,1270.0 1630.6,1270.5 1631.2,1270.3 1631.8,1270.3 1632.5,1269.2 1633.1,1268.4 1633.7,1269.4 1634.3,1271.2 1634.9,1268.6 1635.6,1270.7 1636.2,1268.6 1636.8,1268.7 1637.4,1270.0 1638.0,1269.1 1638.7,1269.6 1639.3,1268.8 1639.9,1269.9 1640.5,1270.5 1641.1,1268.3 1641.8,1270.0 1642.4,1269.8 1643.0,1270.0 1643.6,1267.1 1644.2,1269.8 1644.9,1267.8 1645.5,1268.4 1646.1,1267.9 1646.7,1267.2 1647.3,1267.1 1648.0,1266.9 1648.6,1267.4 1649.2,1267.7 1649.8,1266.5 1650.4,1267.2 1651.1,1266.4 1651.7,1267.1 1652.3,1264.8 1652.9,1266.1 1653.5,1266.1 1654.2,1266.5 1654.8,1266.9 1655.4,1267.6 1656.0,1267.3 1656.6,1267.9 1657.3,1267.4 1657.9,1267.8 1658.5,1267.6 1659.1,1269.4 1659.7,1269.4 1660.4,1270.1 1661.0,1268.7 1661.6,1269.1 1662.2,1271.6 1662.8,1270.5 1663.5,1268.3 1664.1,1270.4 1664.7,1270.1 1665.3,1269.5 1665.9,1269.6 1666.6,1269.1 1667.2,1269.4 1667.8,1269.2 1668.4,1268.9 1669.0,1269.6 1669.7,1269.2 1670.3,1270.6 1670.9,1270.9 1671.5,1269.8 1672.1,1269.7 1672.8,1270.6 1673.4,1269.9 1674.0,1271.8 1674.6,1267.6 1675.2,1267.9 1675.9,1269.0 1676.5,1270.4 1677.1,1270.7 1677.7,1269.6 1678.3,1270.0 1679.0,1269.7 1679.6,1270.4 1680.2,1271.8 1680.8,1268.0 1681.4,1272.0 1682.1,1271.0 1682.7,1269.7 1683.3,1270.5 1683.9,1270.0 1684.5,1270.5 1685.2,1270.5 1685.8,1270.7 1686.4,1269.1 1687.0,1270.6 1687.6,1269.4 1688.3,1269.8 1688.9,1270.7 1689.5,1269.6 1690.1,1270.3 1690.7,1270.3 1691.4,1270.1 1692.0,1268.9 1692.6,1270.4 1693.2,1270.2 1693.8,1272.0 1694.5,1269.0 1695.1,1270.9 1695.7,1269.4 1696.3,1269.4 1696.9,1271.0 1697.6,1268.9 1698.2,1269.1 1698.8,1267.6 1699.4,1265.5 1700.0,1264.7 1700.7,1262.8 1701.3,1261.2 1701.9,1261.3 1702.5,1258.5 1703.1,1255.6 1703.8,1258.8 1704.4,1258.3 1705.0,1260.2 1705.6,1262.5 1706.2,1262.2 1706.9,1265.0 1707.5,1266.0 1708.1,1267.1 1708.7,1268.0 1709.3,1269.1 1710.0,1270.5 1710.6,1270.4 1711.2,1270.1 1711.8,1271.0 1712.4,1267.9 1713.1,1270.1 1713.7,1270.4 1714.3,1270.4 1714.9,1271.4 1715.5,1270.3 1716.2,1271.3 1716.8,1270.0 1717.4,1270.7 1718.0,1270.2 1718.6,1269.9 1719.3,1270.6 1719.9,1270.6 1720.5,1269.3 1721.1,1270.9 1721.7,1269.8 1722.4,1270.1 1723.0,1267.6 1723.6,1269.9 1724.2,1268.1 1724.8,1270.5 1725.5,1268.9 1726.1,1269.0 1726.7,1269.1 1727.3,1267.8 1727.9,1268.8 1728.6,1267.4 1729.2,1268.1 1729.8,1268.8 1730.4,1268.9 1731.0,1268.8 1731.7,1267.1 1732.3,1266.2 1732.9,1267.4 1733.5,1268.5 1734.1,1266.4 1734.8,1268.7 1735.4,1267.6 1736.0,1265.6 1736.6,1268.3 1737.2,1270.2 1737.9,1269.4 1738.5,1269.9 1739.1,1269.6 1739.7,1267.9 1740.3,1267.4 1741.0,1268.8 1741.6,1269.5 1742.2,1269.0 1742.8,1269.3 1743.4,1270.8 1744.1,1271.4 1744.7,1268.6 1745.3,1269.2 1745.9,1270.1 1746.5,1270.0 1747.2,1268.1 1747.8,1272.9 1748.4,1270.9 1749.0,1270.6 1749.6,1268.5 1750.3,1270.5 1750.9,1269.2 1751.5,1270.7 1752.1,1270.5 1752.7,1270.3 1753.4,1270.6 1754.0,1269.7 1754.6,1270.4 1755.2,1268.1 1755.8,1270.9 1756.5,1270.1 1757.1,1272.5 1757.7,1270.3 1758.3,1268.1 1758.9,1271.6 1759.6,1269.6 1760.2,1269.2 1760.8,1270.2 1761.4,1271.4 1762.0,1272.0 1762.7,1269.9 1763.3,1270.5 1763.9,1270.5 1764.5,1269.7 1765.1,1269.8 1765.8,1270.1 1766.4,1270.2 1767.0,1271.2 1767.6,1268.5 1768.2,1270.7 1768.9,1270.6 1769.5,1271.5 1770.1,1269.9 1770.7,1269.9 1771.3,1270.4 1772.0,1269.8 1772.6,1269.7 1773.2,1269.7 1773.8,1269.7 1774.4,1269.4 1775.1,1269.7 1775.7,1269.6 1776.3,1269.6 1776.9,1269.1 1777.5,1271.1 1778.2,1270.6 1778.8,1270.2 1779.4,1269.3 1780.0,1270.9 1780.6,1270.1 1781.3,1270.2 1781.9,1270.4 1782.5,1270.2 1783.1,1271.2 1783.7,1269.6 1784.4,1269.7 1785.0,1270.4 1785.6,1270.1 1786.2,1270.8 1786.8,1271.1 1787.5,1271.6 1788.1,1271.2 1788.7,1270.1 1789.3,1270.2 1789.9,1270.0 1790.6,1271.4 1791.2,1270.1 1791.8,1269.6 1792.4,1269.4 1793.0,1271.0 1793.7,1269.5 1794.3,1268.0 1794.9,1271.0 1795.5,1270.6 1796.1,1271.0 1796.8,1271.2 1797.4,1270.8 1798.0,1270.7 1798.6,1270.4 1799.2,1269.6 1799.9,1268.5 1800.5,1268.6 1801.1,1270.7 1801.7,1271.1 1802.3,1270.4 1803.0,1269.7 1803.6,1270.9 1804.2,1270.3 1804.8,1270.4 1805.4,1270.0 1806.1,1269.3 1806.7,1269.5 1807.3,1270.7 1807.9,1271.8 1808.5,1272.0 1809.2,1270.2 1809.8,1270.8 1810.4,1270.3 1811.0,1270.5 1811.6,1270.8 1812.3,1271.2 1812.9,1269.4 1813.5,1272.0 1814.1,1270.3 1814.7,1269.5 1815.4,1272.5 1816.0,1269.6 1816.6,1270.4 1817.2,1269.7 1817.8,1271.5 1818.5,1268.0 1819.1,1270.7 1819.7,1269.0 1820.3,1271.8 1820.9,1272.3 1821.6,1271.2 1822.2,1269.7 1822.8,1271.5 1823.4,1272.4 1824.0,1270.6 1824.7,1270.1 1825.3,1271.7 1825.9,1269.2 1826.5,1270.1 1827.1,1270.3 1827.8,1270.5 1828.4,1271.3 1829.0,1270.2 1829.6,1269.3 1830.2,1269.0 1830.9,1270.0 1831.5,1270.5 1832.1,1270.8 1832.7,1270.4 1833.3,1268.5 1834.0,1270.1 1834.6,1268.8 1835.2,1270.4 1835.8,1268.7 1836.4,1268.5 1837.1,1268.0 1837.7,1269.2 1838.3,1268.0 1838.9,1270.3 1839.5,1268.7 1840.2,1266.4 1840.8,1267.2 1841.4,1268.0 1842.0,1267.7 1842.6,1267.6 1843.3,1267.5 1843.9,1266.1 1844.5,1266.3 1845.1,1268.6 1845.7,1267.6 1846.4,1268.4 1847.0,1269.2 1847.6,1267.1 1848.2,1267.3 1848.8,1269.7 1849.5,1268.9 1850.1,1269.3 1850.7,1270.8 1851.3,1269.7 1851.9,1270.0 1852.6,1270.4 1853.2,1268.7 1853.8,1271.8 1854.4,1270.7 1855.0,1269.9 1855.7,1271.4 1856.3,1269.6 1856.9,1269.8"/>
<!-- markers -->
<g fill="#000">
<polygon points="416.3,983.8 431.3,1011.4 401.3,1011.4"/>
<polygon points="615.3,97.2 630.3,124.8 600.3,124.8"/>
<polygon points="677.4,991.0 692.4,1018.6 662.4,1018.6"/>
<polygon points="815.6,954.3 830.6,981.9 800.6,981.9"/>
<polygon points="924.5,947.0 939.5,974.6 909.5,974.6"/>
<polygon points="1037.2,908.3 1052.2,935.9 1022.2,935.9"/>
<polygon points="1169.8,919.3 1184.8,946.9 1154.8,946.9"/>
<polygon points="1206.5,924.0 1221.5,951.6 1191.5,951.6"/>
<polygon points="1467.8,974.5 1482.8,1002.1 1452.8,1002.1"/>
<polygon points="1577.3,974.7 1592.3,1002.3 1562.3,1002.3"/>
<polygon points="412.9,1180.7 427.9,1208.3 397.9,1208.3"/>
<polygon points="677.2,1226.5 692.2,1254.1 662.2,1254.1"/>
<polygon points="816.5,1192.8 831.5,1220.4 801.5,1220.4"/>
<polygon points="923.0,1162.1 938.0,1189.7 908.0,1189.7"/>
<polygon points="1037.8,1179.2 1052.8,1206.8 1022.8,1206.8"/>
<polygon points="1155.7,1207.0 1170.7,1234.6 1140.7,1234.6"/>
<polygon points="1177.4,1193.0 1192.4,1220.6 1162.4,1220.6"/>
<polygon points="1206.0,1174.5 1221.0,1202.1 1191.0,1202.1"/>
<polygon points="1451.2,1228.0 1466.2,1255.6 1436.2,1255.6"/>
<polygon points="1481.0,1219.2 1496.0,1246.8 1466.0,1246.8"/>
<polygon points="1576.9,1221.9 1591.9,1249.5 1561.9,1249.5"/>
<polygon points="1701.7,1223.6 1716.7,1251.2 1686.7,1251.2"/>
<polygon points="509.3,991.1 513.5,1004.1 527.2,1004.1 516.1,1012.1 520.4,1025.1 509.3,1017.1 498.2,1025.1 502.5,1012.1 491.4,1004.1 505.1,1004.1"/>
<polygon points="547.6,985.4 551.8,998.4 565.5,998.4 554.4,1006.4 558.7,1019.4 547.6,1011.4 536.5,1019.4 540.8,1006.4 529.7,998.4 543.4,998.4"/>
<polygon points="729.3,987.5 733.5,1000.5 747.2,1000.5 736.1,1008.5 740.4,1021.5 729.3,1013.5 718.2,1021.5 722.5,1008.5 711.4,1000.5 725.1,1000.5"/>
<polygon points="854.4,984.9 858.6,997.9 872.3,997.9 861.2,1005.9 865.5,1018.9 854.4,1010.9 843.3,1018.9 847.6,1005.9 836.5,997.9 850.2,997.9"/>
<polygon points="892.4,975.0 896.6,988.0 910.3,988.0 899.2,996.0 903.5,1009.0 892.4,1001.0 881.3,1009.0 885.6,996.0 874.5,988.0 888.2,988.0"/>
<polygon points="1121.7,921.9 1125.9,934.9 1139.6,934.9 1128.5,942.9 1132.8,955.9 1121.7,947.9 1110.6,955.9 1114.9,942.9 1103.8,934.9 1117.5,934.9"/>
</g>
<!-- legend box -->
<rect x="1325.3" y="54.3" width="532.0" height="154.2" fill="#fff" stroke="#333" stroke-width="2.6"/>
<line x1="1333" y1="96.4" x2="1463.5" y2="96.4" stroke="#444" stroke-width="2.8"/>
<line x1="1333" y1="167.4" x2="1463.5" y2="167.4" stroke="#ff4848" stroke-width="3"/>
<text x="1477.5" y="114.3" font-size="59.2">Ni-W-P coating</text>
<text x="1477.5" y="186.8" font-size="58.5">Mild steel</text>
<!-- symbol legend -->
<g fill="#000">
<polygon points="1440.8,256.4 1456.3,287.1 1425.3,287.1"/>
<polygon points="1443.5,322.3 1448.3,337.0 1463.8,337.0 1451.2,346.1 1456.0,360.8 1443.5,351.7 1431.0,360.8 1435.8,346.1 1423.2,337.0 1438.7,337.0"/>
</g>
<text x="1482" y="287.1" font-size="58">Calcite</text>
<text x="1486.3" y="361.9" font-size="58">Aragonite</text>
<!-- annotation -->
<text x="1055" y="794.3" font-size="60" letter-spacing="-0.9">Ni(001)</text>
<line x1="1113.9" y1="815.3" x2="1090" y2="932" stroke="#222" stroke-width="2"/>
<polygon points="1083.4,918 1085,948.5 1099.4,921 1091,927" fill="#000"/>
<!-- axes frame -->
<g stroke="#000" stroke-width="4.3" fill="none" stroke-linecap="square">
<rect x="319.3" y="54.3" width="1538.0" height="1235.7"/>
</g>
<g stroke="#000" stroke-width="4.2">
<line x1="295.3" y1="1290.0" x2="319.3" y2="1290.0"/>
<line x1="307.3" y1="1199.1" x2="319.3" y2="1199.1"/>
<line x1="295.3" y1="1108.2" x2="319.3" y2="1108.2"/>
<line x1="307.3" y1="1017.4" x2="319.3" y2="1017.4"/>
<line x1="295.3" y1="926.5" x2="319.3" y2="926.5"/>
<line x1="307.3" y1="835.6" x2="319.3" y2="835.6"/>
<line x1="295.3" y1="744.8" x2="319.3" y2="744.8"/>
<line x1="307.3" y1="653.9" x2="319.3" y2="653.9"/>
<line x1="295.3" y1="563.0" x2="319.3" y2="563.0"/>
<line x1="307.3" y1="472.1" x2="319.3" y2="472.1"/>
<line x1="295.3" y1="381.2" x2="319.3" y2="381.2"/>
<line x1="307.3" y1="290.4" x2="319.3" y2="290.4"/>
<line x1="295.3" y1="199.5" x2="319.3" y2="199.5"/>
<line x1="307.3" y1="108.6" x2="319.3" y2="108.6"/>
<line x1="319.3" y1="1290.0" x2="319.3" y2="1314.0"/>
<line x1="473.1" y1="1290.0" x2="473.1" y2="1302.0"/>
<line x1="626.9" y1="1290.0" x2="626.9" y2="1314.0"/>
<line x1="780.7" y1="1290.0" x2="780.7" y2="1302.0"/>
<line x1="934.5" y1="1290.0" x2="934.5" y2="1314.0"/>
<line x1="1088.3" y1="1290.0" x2="1088.3" y2="1302.0"/>
<line x1="1242.1" y1="1290.0" x2="1242.1" y2="1314.0"/>
<line x1="1395.9" y1="1290.0" x2="1395.9" y2="1302.0"/>
<line x1="1549.7" y1="1290.0" x2="1549.7" y2="1314.0"/>
<line x1="1703.5" y1="1290.0" x2="1703.5" y2="1302.0"/>
<line x1="1857.3" y1="1290.0" x2="1857.3" y2="1314.0"/>
</g>
<g font-size="52">
<text x="277" y="1304.5" text-anchor="end">0</text>
<text x="277" y="1122.8" text-anchor="end">1000</text>
<text x="277" y="941.0" text-anchor="end">2000</text>
<text x="277" y="759.2" text-anchor="end">3000</text>
<text x="277" y="577.5" text-anchor="end">4000</text>
<text x="277" y="395.8" text-anchor="end">5000</text>
<text x="277" y="214.0" text-anchor="end">6000</text>
<text x="319.3" y="1371.5" text-anchor="middle">20</text>
<text x="626.9" y="1371.5" text-anchor="middle">30</text>
<text x="934.5" y="1371.5" text-anchor="middle">40</text>
<text x="1242.1" y="1371.5" text-anchor="middle">50</text>
<text x="1549.7" y="1371.5" text-anchor="middle">60</text>
<text x="1857.3" y="1371.5" text-anchor="middle">70</text>
</g>
<text x="1088.3" y="1466" font-size="58" text-anchor="middle">2θ (degrees)</text>
<text transform="translate(99.4,652.5) rotate(-90)" font-size="64.3" text-anchor="middle">Intensity (a.u.)</text>
</g>
</svg>
</body></html>
